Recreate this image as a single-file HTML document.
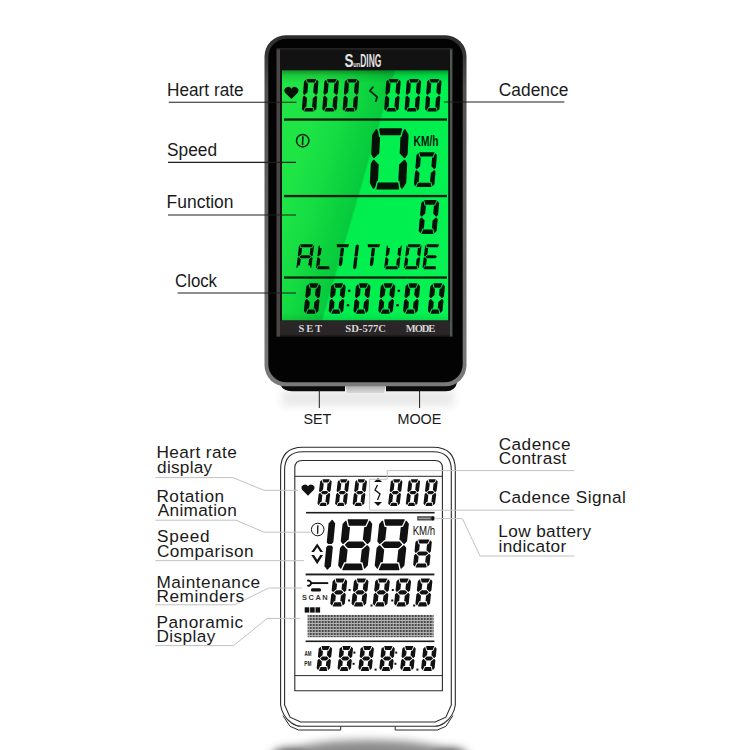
<!DOCTYPE html>
<html><head><meta charset="utf-8"><style>
html,body{margin:0;padding:0;background:#fff;width:750px;height:750px;overflow:hidden}
svg{display:block}
</style></head><body>
<svg width="750" height="750" viewBox="0 0 750 750">
<rect width="750" height="750" fill="#fff"/>
<defs>
<linearGradient id="lcd" gradientUnits="userSpaceOnUse" x1="282" y1="71" x2="501.7" y2="134.9">
  <stop offset="0" stop-color="#22e446"/>
  <stop offset="0.18" stop-color="#1ee446"/>
  <stop offset="0.30" stop-color="#14dc42"/>
  <stop offset="0.468" stop-color="#06ca3c"/>
  <stop offset="0.478" stop-color="#02ee4e"/>
  <stop offset="0.7" stop-color="#00f050"/>
  <stop offset="1" stop-color="#0af254"/>
</linearGradient>
<linearGradient id="lcdv" x1="0" y1="0" x2="0" y2="1">
  <stop offset="0" stop-color="#003300" stop-opacity="0.45"/>
  <stop offset="0.02" stop-color="#003300" stop-opacity="0.15"/>
  <stop offset="0.05" stop-color="#003300" stop-opacity="0"/>
  <stop offset="0.97" stop-color="#003300" stop-opacity="0"/>
  <stop offset="1" stop-color="#003300" stop-opacity="0.12"/>
</linearGradient>
<linearGradient id="rim" x1="0" y1="0" x2="0" y2="1">
  <stop offset="0" stop-color="#2c2c2c"/>
  <stop offset="0.15" stop-color="#505050"/>
  <stop offset="1" stop-color="#7a7a7a"/>
</linearGradient>
<radialGradient id="shad2" cx="0.5" cy="1" r="0.62">
  <stop offset="0" stop-color="#303030"/>
  <stop offset="0.55" stop-color="#8c8c8c"/>
  <stop offset="1" stop-color="#ffffff" stop-opacity="0"/>
</radialGradient>
<linearGradient id="floor" x1="0" y1="0" x2="0" y2="1">
  <stop offset="0" stop-color="#c4c4c4"/>
  <stop offset="1" stop-color="#ffffff"/>
</linearGradient>
<pattern id="grid" x="306.7" y="615" width="3" height="3" patternUnits="userSpaceOnUse"><rect width="3" height="3" fill="#b4b4b4"/><rect width="2" height="2" fill="#4a4a4a"/></pattern>
</defs>
<defs><filter id="blur4" x="-20%" y="-50%" width="140%" height="200%"><feGaussianBlur stdDeviation="4"/></filter><linearGradient id="mid" x1="0" y1="0" x2="0" y2="1"><stop offset="0" stop-color="#a8a8a8"/><stop offset="1" stop-color="#d8d8d8"/></linearGradient></defs>
<rect x="282" y="390" width="172" height="16" fill="#d6d6d6" opacity="0.55" filter="url(#blur4)"/>
<path d="M280.5,383 L345,383 L345,391.3 L292,391.3 Q283,391 280.5,385 Z" fill="#0b0b0b"/>
<path d="M386,383 L457,383 Q455,391 446,391.3 L386,391.3 Z" fill="#0b0b0b"/>
<path d="M345,385 L386,385 L384,393 L347,393 Z" fill="url(#mid)"/>
<rect x="264.5" y="35.3" width="202" height="351" rx="21" fill="url(#rim)"/>
<rect x="268.3" y="38.8" width="194.4" height="343.5" rx="18" fill="#030303"/>
<rect x="276.6" y="48.2" width="176" height="288.3" fill="#2c2a2a"/>
<rect x="276.6" y="49.5" width="3.4" height="287" fill="#4a4646"/>
<rect x="280" y="49.5" width="170" height="287" fill="#121212"/>
<rect x="450" y="49.5" width="2.2" height="287" fill="#4a5a52"/>
<rect x="282" y="70.5" width="166.2" height="250" fill="url(#lcd)"/>
<rect x="282" y="70.5" width="166.2" height="250" fill="url(#lcdv)"/>
<rect x="280" y="320.5" width="170" height="15" fill="#2a2526"/>
<g font-family="Liberation Sans" font-weight="bold" fill="#e2e2e2"><text x="344.6" y="67.4" font-size="19" textLength="9" lengthAdjust="spacingAndGlyphs">S</text><text x="353.2" y="67.2" font-size="8" textLength="7" lengthAdjust="spacingAndGlyphs">un</text><text x="360.2" y="67.3" font-size="17.5" textLength="21.2" lengthAdjust="spacingAndGlyphs">DING</text></g>
<rect x="284" y="118.4" width="163" height="2.3" fill="#0a1e0d"/>
<rect x="284" y="194.9" width="163" height="2.3" fill="#0a1e0d"/>
<rect x="284" y="276.4" width="163" height="2.3" fill="#0a1e0d"/>
<path d="M291.4,99.02000000000001 L284.99999999999994,92.628 A3.4,3.4 0 0 1 291.4,88.82000000000001 A3.4,3.4 0 0 1 297.8,92.628 Z" fill="#071207"/>
<g fill="#071107"><polygon points="307.13,79.00 306.79,79.17 306.71,79.53 307.45,82.23 307.58,82.43 307.81,82.50 314.46,82.50 314.69,82.43 314.86,82.23 316.01,79.53 315.98,79.17 315.67,79.00"/><polygon points="318.39,81.72 318.32,81.47 317.26,80.08 317.04,79.94 316.76,79.99 316.57,80.20 315.25,83.30 314.37,83.30 314.08,83.42 313.94,83.70 313.28,92.35 313.37,92.63 313.65,92.75 313.76,92.75 315.64,94.78 315.91,94.90 316.02,94.90 316.34,94.76 317.39,93.61 317.50,93.35"/><polygon points="317.20,97.25 317.13,96.99 316.26,95.84 315.96,95.70 315.85,95.70 315.56,95.82 313.37,97.85 313.25,97.85 312.96,97.97 312.82,98.25 312.16,106.90 312.26,107.18 312.53,107.30 313.41,107.30 314.25,110.40 314.41,110.61 314.68,110.66 314.93,110.52 316.20,109.13 316.31,108.88"/><polygon points="304.29,111.07 304.32,111.43 304.63,111.60 313.17,111.60 313.51,111.43 313.59,111.07 312.85,108.37 312.72,108.17 312.49,108.10 305.84,108.10 305.61,108.17 305.44,108.37"/><polygon points="306.54,97.85 304.66,95.82 304.39,95.70 304.28,95.70 303.96,95.84 302.91,96.99 302.80,97.25 301.91,108.88 301.98,109.13 303.04,110.52 303.26,110.66 303.54,110.61 303.73,110.40 305.05,107.30 305.93,107.30 306.22,107.18 306.36,106.90 307.02,98.25 306.93,97.97 306.65,97.85"/><polygon points="306.89,83.30 306.05,80.20 305.89,79.99 305.62,79.94 305.37,80.08 304.10,81.47 303.99,81.72 303.10,93.35 303.17,93.61 304.04,94.76 304.34,94.90 304.45,94.90 304.74,94.78 306.93,92.75 307.05,92.75 307.34,92.63 307.48,92.35 308.14,83.70 308.04,83.42 307.77,83.30"/></g>
<g fill="#071107"><polygon points="327.53,79.00 327.19,79.17 327.11,79.53 327.85,82.23 327.98,82.43 328.21,82.50 334.86,82.50 335.09,82.43 335.26,82.23 336.41,79.53 336.38,79.17 336.07,79.00"/><polygon points="338.79,81.72 338.72,81.47 337.66,80.08 337.44,79.94 337.16,79.99 336.97,80.20 335.65,83.30 334.77,83.30 334.48,83.42 334.34,83.70 333.68,92.35 333.77,92.63 334.05,92.75 334.16,92.75 336.04,94.78 336.31,94.90 336.42,94.90 336.74,94.76 337.79,93.61 337.90,93.35"/><polygon points="337.60,97.25 337.53,96.99 336.66,95.84 336.36,95.70 336.25,95.70 335.96,95.82 333.77,97.85 333.65,97.85 333.36,97.97 333.22,98.25 332.56,106.90 332.66,107.18 332.93,107.30 333.81,107.30 334.65,110.40 334.81,110.61 335.08,110.66 335.33,110.52 336.60,109.13 336.71,108.88"/><polygon points="324.69,111.07 324.72,111.43 325.03,111.60 333.57,111.60 333.91,111.43 333.99,111.07 333.25,108.37 333.12,108.17 332.89,108.10 326.24,108.10 326.01,108.17 325.84,108.37"/><polygon points="326.94,97.85 325.06,95.82 324.79,95.70 324.68,95.70 324.36,95.84 323.31,96.99 323.20,97.25 322.31,108.88 322.38,109.13 323.44,110.52 323.66,110.66 323.94,110.61 324.13,110.40 325.45,107.30 326.33,107.30 326.62,107.18 326.76,106.90 327.42,98.25 327.33,97.97 327.05,97.85"/><polygon points="327.29,83.30 326.45,80.20 326.29,79.99 326.02,79.94 325.77,80.08 324.50,81.47 324.39,81.72 323.50,93.35 323.57,93.61 324.44,94.76 324.74,94.90 324.85,94.90 325.14,94.78 327.33,92.75 327.45,92.75 327.74,92.63 327.88,92.35 328.54,83.70 328.44,83.42 328.17,83.30"/></g>
<g fill="#071107"><polygon points="347.93,79.00 347.59,79.17 347.51,79.53 348.25,82.23 348.38,82.43 348.61,82.50 355.26,82.50 355.49,82.43 355.66,82.23 356.81,79.53 356.78,79.17 356.47,79.00"/><polygon points="359.19,81.72 359.12,81.47 358.06,80.08 357.84,79.94 357.56,79.99 357.37,80.20 356.05,83.30 355.17,83.30 354.88,83.42 354.74,83.70 354.08,92.35 354.17,92.63 354.45,92.75 354.56,92.75 356.44,94.78 356.71,94.90 356.82,94.90 357.14,94.76 358.19,93.61 358.30,93.35"/><polygon points="358.00,97.25 357.93,96.99 357.06,95.84 356.76,95.70 356.65,95.70 356.36,95.82 354.17,97.85 354.05,97.85 353.76,97.97 353.62,98.25 352.96,106.90 353.06,107.18 353.33,107.30 354.21,107.30 355.05,110.40 355.21,110.61 355.48,110.66 355.73,110.52 357.00,109.13 357.11,108.88"/><polygon points="345.09,111.07 345.12,111.43 345.43,111.60 353.97,111.60 354.31,111.43 354.39,111.07 353.65,108.37 353.52,108.17 353.29,108.10 346.64,108.10 346.41,108.17 346.24,108.37"/><polygon points="347.34,97.85 345.46,95.82 345.19,95.70 345.08,95.70 344.76,95.84 343.71,96.99 343.60,97.25 342.71,108.88 342.78,109.13 343.84,110.52 344.06,110.66 344.34,110.61 344.53,110.40 345.85,107.30 346.73,107.30 347.02,107.18 347.16,106.90 347.82,98.25 347.73,97.97 347.45,97.85"/><polygon points="347.69,83.30 346.85,80.20 346.69,79.99 346.42,79.94 346.17,80.08 344.90,81.47 344.79,81.72 343.90,93.35 343.97,93.61 344.84,94.76 345.14,94.90 345.25,94.90 345.54,94.78 347.73,92.75 347.85,92.75 348.14,92.63 348.28,92.35 348.94,83.70 348.84,83.42 348.57,83.30"/></g>
<polyline points="372.8,87.2 369.9,90.8 377.2,97.0 375.8,101.2" fill="none" stroke="#0a2a0e" stroke-width="1.8" stroke-linejoin="round" stroke-linecap="round"/>
<g fill="#071107"><polygon points="389.43,79.00 389.09,79.17 389.01,79.53 389.75,82.23 389.88,82.43 390.11,82.50 396.76,82.50 396.99,82.43 397.16,82.23 398.31,79.53 398.28,79.17 397.97,79.00"/><polygon points="400.69,81.72 400.62,81.47 399.56,80.08 399.34,79.94 399.06,79.99 398.87,80.20 397.55,83.30 396.67,83.30 396.38,83.42 396.24,83.70 395.58,92.35 395.67,92.63 395.95,92.75 396.06,92.75 397.94,94.78 398.21,94.90 398.32,94.90 398.64,94.76 399.69,93.61 399.80,93.35"/><polygon points="399.50,97.25 399.43,96.99 398.56,95.84 398.26,95.70 398.15,95.70 397.86,95.82 395.67,97.85 395.55,97.85 395.26,97.97 395.12,98.25 394.46,106.90 394.56,107.18 394.83,107.30 395.71,107.30 396.55,110.40 396.71,110.61 396.98,110.66 397.23,110.52 398.50,109.13 398.61,108.88"/><polygon points="386.59,111.07 386.62,111.43 386.93,111.60 395.47,111.60 395.81,111.43 395.89,111.07 395.15,108.37 395.02,108.17 394.79,108.10 388.14,108.10 387.91,108.17 387.74,108.37"/><polygon points="388.84,97.85 386.96,95.82 386.69,95.70 386.58,95.70 386.26,95.84 385.21,96.99 385.10,97.25 384.21,108.88 384.28,109.13 385.34,110.52 385.56,110.66 385.84,110.61 386.03,110.40 387.35,107.30 388.23,107.30 388.52,107.18 388.66,106.90 389.32,98.25 389.23,97.97 388.95,97.85"/><polygon points="389.19,83.30 388.35,80.20 388.19,79.99 387.92,79.94 387.67,80.08 386.40,81.47 386.29,81.72 385.40,93.35 385.47,93.61 386.34,94.76 386.64,94.90 386.75,94.90 387.04,94.78 389.23,92.75 389.35,92.75 389.64,92.63 389.78,92.35 390.44,83.70 390.34,83.42 390.07,83.30"/></g>
<g fill="#071107"><polygon points="409.83,79.00 409.49,79.17 409.41,79.53 410.15,82.23 410.28,82.43 410.51,82.50 417.16,82.50 417.39,82.43 417.56,82.23 418.71,79.53 418.68,79.17 418.37,79.00"/><polygon points="421.09,81.72 421.02,81.47 419.96,80.08 419.74,79.94 419.46,79.99 419.27,80.20 417.95,83.30 417.07,83.30 416.78,83.42 416.64,83.70 415.98,92.35 416.07,92.63 416.35,92.75 416.46,92.75 418.34,94.78 418.61,94.90 418.72,94.90 419.04,94.76 420.09,93.61 420.20,93.35"/><polygon points="419.90,97.25 419.83,96.99 418.96,95.84 418.66,95.70 418.55,95.70 418.26,95.82 416.07,97.85 415.95,97.85 415.66,97.97 415.52,98.25 414.86,106.90 414.96,107.18 415.23,107.30 416.11,107.30 416.95,110.40 417.11,110.61 417.38,110.66 417.63,110.52 418.90,109.13 419.01,108.88"/><polygon points="406.99,111.07 407.02,111.43 407.33,111.60 415.87,111.60 416.21,111.43 416.29,111.07 415.55,108.37 415.42,108.17 415.19,108.10 408.54,108.10 408.31,108.17 408.14,108.37"/><polygon points="409.24,97.85 407.36,95.82 407.09,95.70 406.98,95.70 406.66,95.84 405.61,96.99 405.50,97.25 404.61,108.88 404.68,109.13 405.74,110.52 405.96,110.66 406.24,110.61 406.43,110.40 407.75,107.30 408.63,107.30 408.92,107.18 409.06,106.90 409.72,98.25 409.63,97.97 409.35,97.85"/><polygon points="409.59,83.30 408.75,80.20 408.59,79.99 408.32,79.94 408.07,80.08 406.80,81.47 406.69,81.72 405.80,93.35 405.87,93.61 406.74,94.76 407.04,94.90 407.15,94.90 407.44,94.78 409.63,92.75 409.75,92.75 410.04,92.63 410.18,92.35 410.84,83.70 410.74,83.42 410.47,83.30"/></g>
<g fill="#071107"><polygon points="430.23,79.00 429.89,79.17 429.81,79.53 430.55,82.23 430.68,82.43 430.91,82.50 437.56,82.50 437.79,82.43 437.96,82.23 439.11,79.53 439.08,79.17 438.77,79.00"/><polygon points="441.49,81.72 441.42,81.47 440.36,80.08 440.14,79.94 439.86,79.99 439.67,80.20 438.35,83.30 437.47,83.30 437.18,83.42 437.04,83.70 436.38,92.35 436.47,92.63 436.75,92.75 436.86,92.75 438.74,94.78 439.01,94.90 439.12,94.90 439.44,94.76 440.49,93.61 440.60,93.35"/><polygon points="440.30,97.25 440.23,96.99 439.36,95.84 439.06,95.70 438.95,95.70 438.66,95.82 436.47,97.85 436.35,97.85 436.06,97.97 435.92,98.25 435.26,106.90 435.36,107.18 435.63,107.30 436.51,107.30 437.35,110.40 437.51,110.61 437.78,110.66 438.03,110.52 439.30,109.13 439.41,108.88"/><polygon points="427.39,111.07 427.42,111.43 427.73,111.60 436.27,111.60 436.61,111.43 436.69,111.07 435.95,108.37 435.82,108.17 435.59,108.10 428.94,108.10 428.71,108.17 428.54,108.37"/><polygon points="429.64,97.85 427.76,95.82 427.49,95.70 427.38,95.70 427.06,95.84 426.01,96.99 425.90,97.25 425.01,108.88 425.08,109.13 426.14,110.52 426.36,110.66 426.64,110.61 426.83,110.40 428.15,107.30 429.03,107.30 429.32,107.18 429.46,106.90 430.12,98.25 430.03,97.97 429.75,97.85"/><polygon points="429.99,83.30 429.15,80.20 428.99,79.99 428.72,79.94 428.47,80.08 427.20,81.47 427.09,81.72 426.20,93.35 426.27,93.61 427.14,94.76 427.44,94.90 427.55,94.90 427.84,94.78 430.03,92.75 430.15,92.75 430.44,92.63 430.58,92.35 431.24,83.70 431.14,83.42 430.87,83.30"/></g>
<circle cx="302.7" cy="140.7" r="6.2" fill="none" stroke="#0b2410" stroke-width="1.5"/>
<line x1="302.9" y1="136.2" x2="302.5" y2="145.2" stroke="#0b2410" stroke-width="1.6"/>
<g fill="#071107"><polygon points="380.08,128.30 379.44,128.59 379.24,129.26 380.06,134.66 380.31,135.12 380.81,135.30 399.90,135.30 400.42,135.12 400.72,134.66 402.06,129.26 401.93,128.59 401.32,128.30"/><polygon points="399.68,153.25 399.89,153.82 400.24,153.97 404.08,158.00 404.72,158.23 405.33,157.85 407.49,154.59 407.63,154.17 408.57,135.03 408.47,134.61 405.53,129.41 405.13,129.07 404.60,129.07 404.16,129.41 403.11,131.00 402.99,131.26 401.64,136.70 401.29,136.70 400.71,136.93 400.45,137.50"/><polygon points="399.75,163.93 399.38,164.08 399.12,164.65 398.35,180.40 398.56,180.97 399.11,181.20 399.46,181.20 400.28,186.64 400.37,186.90 401.27,188.49 401.67,188.83 402.20,188.83 402.64,188.49 406.09,183.29 406.23,182.87 407.17,163.73 407.07,163.31 405.22,160.05 404.65,159.67 403.98,159.90"/><polygon points="376.34,188.64 376.47,189.31 377.08,189.60 398.32,189.60 398.96,189.31 399.16,188.64 398.34,183.24 398.09,182.78 397.59,182.60 378.50,182.60 377.98,182.78 377.68,183.24"/><polygon points="374.32,159.90 373.68,159.67 373.07,160.05 370.91,163.31 370.77,163.73 369.83,182.87 369.93,183.29 372.87,188.49 373.27,188.83 373.80,188.83 374.24,188.49 375.29,186.90 375.41,186.64 376.76,181.20 377.11,181.20 377.69,180.97 377.95,180.40 378.72,164.65 378.51,164.08 378.16,163.93"/><polygon points="372.31,134.61 372.17,135.03 371.23,154.17 371.33,154.59 373.18,157.85 373.75,158.23 374.42,158.00 378.65,153.97 379.02,153.82 379.28,153.25 380.05,137.50 379.84,136.93 379.29,136.70 378.94,136.70 378.12,131.26 378.03,131.00 377.13,129.41 376.73,129.07 376.20,129.07 375.76,129.41"/></g>
<text x="413.58" y="145.9" font-family="Liberation Sans" font-weight="bold" fill="#0a1a0c" font-size="14.0" textLength="24.97" lengthAdjust="spacingAndGlyphs">KM/h</text>
<g fill="#071107"><polygon points="419.79,152.30 419.45,152.47 419.37,152.83 420.27,156.23 420.40,156.43 420.62,156.50 432.55,156.50 432.79,156.43 432.95,156.23 434.44,152.83 434.42,152.47 434.11,152.30"/><polygon points="431.39,166.25 431.49,166.53 431.67,166.61 433.92,169.08 434.20,169.20 434.32,169.20 434.64,169.06 435.76,167.83 435.88,167.57 436.95,155.20 436.88,154.95 435.76,153.45 435.53,153.32 435.26,153.36 435.07,153.58 433.40,157.40 432.56,157.40 432.27,157.52 432.12,157.80"/><polygon points="431.14,172.69 430.95,172.77 430.81,173.05 430.08,181.50 430.17,181.78 430.44,181.90 431.28,181.90 432.29,185.72 432.44,185.94 432.71,185.98 432.96,185.85 434.34,184.35 434.45,184.10 435.52,171.73 435.45,171.47 434.53,170.24 434.24,170.10 434.12,170.10 433.83,170.22"/><polygon points="416.46,186.47 416.48,186.83 416.79,187.00 431.11,187.00 431.45,186.83 431.53,186.47 430.63,183.07 430.50,182.87 430.28,182.80 418.35,182.80 418.11,182.87 417.95,183.07"/><polygon points="419.23,172.69 416.98,170.22 416.70,170.10 416.58,170.10 416.26,170.24 415.14,171.47 415.02,171.73 413.95,184.10 414.02,184.35 415.14,185.85 415.37,185.98 415.64,185.94 415.83,185.72 417.50,181.90 418.34,181.90 418.63,181.78 418.78,181.50 419.51,173.05 419.41,172.77"/><polygon points="419.62,157.40 418.61,153.58 418.46,153.36 418.19,153.32 417.94,153.45 416.56,154.95 416.45,155.20 415.38,167.57 415.45,167.83 416.37,169.06 416.66,169.20 416.78,169.20 417.07,169.08 419.76,166.61 419.95,166.53 420.09,166.25 420.82,157.80 420.73,157.52 420.46,157.40"/></g>
<g fill="#071107"><polygon points="424.71,200.10 424.37,200.27 424.29,200.63 425.28,204.43 425.41,204.63 425.64,204.70 434.35,204.70 434.59,204.63 434.75,204.43 436.42,200.63 436.40,200.27 436.09,200.10"/><polygon points="433.22,213.45 433.31,213.73 433.46,213.80 435.91,216.48 436.18,216.60 436.38,216.60 436.70,216.46 437.98,215.06 438.10,214.81 439.12,203.24 439.05,202.99 437.75,201.24 437.52,201.10 437.24,201.15 437.05,201.36 435.19,205.60 434.31,205.60 434.02,205.72 433.88,206.00"/><polygon points="432.88,220.30 432.72,220.37 432.58,220.65 431.92,228.10 432.01,228.38 432.29,228.50 433.17,228.50 434.27,232.74 434.43,232.95 434.70,233.00 434.95,232.86 436.56,231.11 436.68,230.86 437.70,219.29 437.63,219.04 436.59,217.64 436.30,217.50 436.10,217.50 435.81,217.62"/><polygon points="421.38,233.47 421.40,233.83 421.71,234.00 433.09,234.00 433.43,233.83 433.51,233.47 432.52,229.67 432.39,229.47 432.16,229.40 423.45,229.40 423.21,229.47 423.05,229.67"/><polygon points="424.34,220.30 421.89,217.62 421.62,217.50 421.42,217.50 421.10,217.64 419.82,219.04 419.70,219.29 418.68,230.86 418.75,231.11 420.05,232.86 420.28,233.00 420.56,232.95 420.75,232.74 422.61,228.50 423.49,228.50 423.78,228.38 423.92,228.10 424.58,220.65 424.49,220.37"/><polygon points="424.63,205.60 423.53,201.36 423.37,201.15 423.10,201.10 422.85,201.24 421.24,202.99 421.12,203.24 420.10,214.81 420.17,215.06 421.21,216.46 421.50,216.60 421.70,216.60 421.99,216.48 424.92,213.80 425.08,213.73 425.22,213.45 425.88,206.00 425.79,205.72 425.51,205.60"/></g>
<g fill="#071107"><polygon points="300.79,244.30 300.54,244.42 300.46,244.68 300.81,247.08 300.90,247.24 301.07,247.30 311.61,247.30 311.80,247.24 311.93,247.08 312.85,244.68 312.83,244.42 312.61,244.30"/><polygon points="309.70,254.30 309.76,254.51 309.92,254.58 311.49,256.36 311.69,256.45 311.83,256.45 312.05,256.37 312.73,255.77 312.85,255.55 313.99,246.03 313.93,245.81 313.70,245.56 313.52,245.48 313.32,245.53 313.18,245.70 312.29,248.00 310.76,248.00 310.53,248.09 310.42,248.30"/><polygon points="309.39,259.02 309.21,259.09 309.10,259.30 308.38,265.30 308.44,265.51 308.64,265.60 310.18,265.60 310.52,267.90 310.62,268.07 310.81,268.12 311.00,268.04 311.29,267.79 311.41,267.57 312.55,258.05 312.49,257.83 311.94,257.23 311.74,257.15 311.61,257.15 311.38,257.24"/><polygon points="300.48,259.02 298.91,257.24 298.71,257.15 298.57,257.15 298.35,257.23 297.67,257.83 297.55,258.05 296.41,267.57 296.47,267.79 296.70,268.04 296.88,268.12 297.08,268.07 297.22,267.90 298.11,265.60 299.64,265.60 299.87,265.51 299.98,265.30 300.70,259.30 300.64,259.09"/><polygon points="300.22,248.00 299.88,245.70 299.78,245.53 299.59,245.48 299.40,245.56 299.11,245.81 298.99,246.03 297.85,255.55 297.91,255.77 298.46,256.37 298.66,256.45 298.79,256.45 299.02,256.36 301.01,254.58 301.19,254.51 301.30,254.30 302.02,248.30 301.96,248.09 301.76,248.00"/><polygon points="299.75,256.59 299.64,256.80 299.70,257.01 300.76,258.21 300.96,258.30 309.08,258.30 309.30,258.21 310.65,257.01 310.76,256.80 310.70,256.59 309.64,255.39 309.44,255.30 301.32,255.30 301.10,255.39"/></g>
<g fill="#071107"><polygon points="319.82,248.00 319.48,245.70 319.38,245.53 319.19,245.48 319.00,245.56 318.71,245.81 318.59,246.03 317.45,255.55 317.51,255.77 318.06,256.37 318.26,256.45 318.39,256.45 318.62,256.36 320.61,254.58 320.79,254.51 320.90,254.30 321.62,248.30 321.56,248.09 321.36,248.00"/><polygon points="320.08,259.02 318.51,257.24 318.31,257.15 318.17,257.15 317.95,257.23 317.27,257.83 317.15,258.05 316.01,267.57 316.07,267.79 316.30,268.04 316.48,268.12 316.68,268.07 316.82,267.90 317.71,265.60 319.24,265.60 319.47,265.51 319.58,265.30 320.30,259.30 320.24,259.09"/><polygon points="317.15,268.92 317.17,269.18 317.39,269.30 329.21,269.30 329.46,269.18 329.54,268.92 329.19,266.52 329.10,266.36 328.93,266.30 318.39,266.30 318.20,266.36 318.07,266.52"/></g>
<g fill="#071107"><polygon points="336.99,244.30 336.74,244.42 336.66,244.68 337.01,247.08 337.10,247.24 337.27,247.30 347.81,247.30 348.00,247.24 348.13,247.08 349.05,244.68 349.03,244.42 348.81,244.30"/><polygon points="339.86,255.85 339.95,256.09 340.30,256.39 340.47,256.45 342.41,256.45 342.60,256.39 343.02,256.09 343.16,255.85 344.02,248.73 343.93,248.49 343.43,248.06 343.26,248.00 341.66,248.00 341.46,248.06 340.86,248.49 340.72,248.73"/><polygon points="338.78,264.87 338.87,265.11 340.09,266.16 340.27,266.22 340.46,266.16 341.94,265.11 342.08,264.87 342.94,257.75 342.85,257.51 342.50,257.21 342.33,257.15 340.39,257.15 340.20,257.21 339.78,257.51 339.64,257.75"/></g>
<g fill="#071107"><polygon points="357.62,256.09 357.76,255.85 358.98,245.73 358.89,245.49 357.67,244.44 357.49,244.38 357.30,244.44 355.82,245.49 355.68,245.73 354.46,255.85 354.55,256.09 354.90,256.39 355.07,256.45 357.01,256.45 357.20,256.39"/><polygon points="354.38,257.51 354.24,257.75 353.02,267.87 353.11,268.11 354.33,269.16 354.51,269.22 354.70,269.16 356.18,268.11 356.32,267.87 357.54,257.75 357.45,257.51 357.10,257.21 356.93,257.15 354.99,257.15 354.80,257.21"/></g>
<g fill="#071107"><polygon points="367.99,244.30 367.74,244.42 367.66,244.68 368.01,247.08 368.10,247.24 368.27,247.30 378.81,247.30 379.00,247.24 379.13,247.08 380.05,244.68 380.03,244.42 379.81,244.30"/><polygon points="370.86,255.85 370.95,256.09 371.30,256.39 371.47,256.45 373.41,256.45 373.60,256.39 374.02,256.09 374.16,255.85 375.02,248.73 374.93,248.49 374.43,248.06 374.26,248.00 372.66,248.00 372.46,248.06 371.86,248.49 371.72,248.73"/><polygon points="369.78,264.87 369.87,265.11 371.09,266.16 371.27,266.22 371.46,266.16 372.94,265.11 373.08,264.87 373.94,257.75 373.85,257.51 373.50,257.21 373.33,257.15 371.39,257.15 371.20,257.21 370.78,257.51 370.64,257.75"/></g>
<g fill="#071107"><polygon points="388.02,248.00 387.68,245.70 387.58,245.53 387.39,245.48 387.20,245.56 386.91,245.81 386.79,246.03 385.65,255.55 385.71,255.77 386.26,256.37 386.46,256.45 386.59,256.45 386.82,256.36 388.81,254.58 388.99,254.51 389.10,254.30 389.82,248.30 389.76,248.09 389.56,248.00"/><polygon points="388.28,259.02 386.71,257.24 386.51,257.15 386.37,257.15 386.15,257.23 385.47,257.83 385.35,258.05 384.21,267.57 384.27,267.79 384.50,268.04 384.68,268.12 384.88,268.07 385.02,267.90 385.91,265.60 387.44,265.60 387.67,265.51 387.78,265.30 388.50,259.30 388.44,259.09"/><polygon points="385.35,268.92 385.37,269.18 385.59,269.30 397.41,269.30 397.66,269.18 397.74,268.92 397.39,266.52 397.30,266.36 397.13,266.30 386.59,266.30 386.40,266.36 386.27,266.52"/><polygon points="397.19,259.02 397.01,259.09 396.90,259.30 396.18,265.30 396.24,265.51 396.44,265.60 397.98,265.60 398.32,267.90 398.42,268.07 398.61,268.12 398.80,268.04 399.09,267.79 399.21,267.57 400.35,258.05 400.29,257.83 399.74,257.23 399.54,257.15 399.41,257.15 399.18,257.24"/><polygon points="397.50,254.30 397.56,254.51 397.72,254.58 399.29,256.36 399.49,256.45 399.63,256.45 399.85,256.37 400.53,255.77 400.65,255.55 401.79,246.03 401.73,245.81 401.50,245.56 401.32,245.48 401.12,245.53 400.98,245.70 400.09,248.00 398.56,248.00 398.33,248.09 398.22,248.30"/></g>
<g fill="#071107"><polygon points="408.29,244.30 408.04,244.42 407.96,244.68 408.31,247.08 408.40,247.24 408.57,247.30 419.11,247.30 419.30,247.24 419.43,247.08 420.35,244.68 420.33,244.42 420.11,244.30"/><polygon points="417.20,254.30 417.26,254.51 417.42,254.58 418.99,256.36 419.19,256.45 419.33,256.45 419.55,256.37 420.23,255.77 420.35,255.55 421.49,246.03 421.43,245.81 421.20,245.56 421.02,245.48 420.82,245.53 420.68,245.70 419.79,248.00 418.26,248.00 418.03,248.09 417.92,248.30"/><polygon points="416.89,259.02 416.71,259.09 416.60,259.30 415.88,265.30 415.94,265.51 416.14,265.60 417.68,265.60 418.02,267.90 418.12,268.07 418.31,268.12 418.50,268.04 418.79,267.79 418.91,267.57 420.05,258.05 419.99,257.83 419.44,257.23 419.24,257.15 419.11,257.15 418.88,257.24"/><polygon points="405.05,268.92 405.07,269.18 405.29,269.30 417.11,269.30 417.36,269.18 417.44,268.92 417.09,266.52 417.00,266.36 416.83,266.30 406.29,266.30 406.10,266.36 405.97,266.52"/><polygon points="407.98,259.02 406.41,257.24 406.21,257.15 406.07,257.15 405.85,257.23 405.17,257.83 405.05,258.05 403.91,267.57 403.97,267.79 404.20,268.04 404.38,268.12 404.58,268.07 404.72,267.90 405.61,265.60 407.14,265.60 407.37,265.51 407.48,265.30 408.20,259.30 408.14,259.09"/><polygon points="407.72,248.00 407.38,245.70 407.28,245.53 407.09,245.48 406.90,245.56 406.61,245.81 406.49,246.03 405.35,255.55 405.41,255.77 405.96,256.37 406.16,256.45 406.29,256.45 406.52,256.36 408.51,254.58 408.69,254.51 408.80,254.30 409.52,248.30 409.46,248.09 409.26,248.00"/></g>
<g fill="#071107"><polygon points="426.89,244.30 426.64,244.42 426.56,244.68 426.91,247.08 427.00,247.24 427.17,247.30 437.71,247.30 437.90,247.24 438.03,247.08 438.95,244.68 438.93,244.42 438.71,244.30"/><polygon points="426.32,248.00 425.98,245.70 425.88,245.53 425.69,245.48 425.50,245.56 425.21,245.81 425.09,246.03 423.95,255.55 424.01,255.77 424.56,256.37 424.76,256.45 424.89,256.45 425.12,256.36 427.11,254.58 427.29,254.51 427.40,254.30 428.12,248.30 428.06,248.09 427.86,248.00"/><polygon points="425.85,256.59 425.74,256.80 425.80,257.01 426.86,258.21 427.06,258.30 435.18,258.30 435.40,258.21 436.75,257.01 436.86,256.80 436.80,256.59 435.74,255.39 435.54,255.30 427.42,255.30 427.20,255.39"/><polygon points="426.58,259.02 425.01,257.24 424.81,257.15 424.67,257.15 424.45,257.23 423.77,257.83 423.65,258.05 422.51,267.57 422.57,267.79 422.80,268.04 422.98,268.12 423.18,268.07 423.32,267.90 424.21,265.60 425.74,265.60 425.97,265.51 426.08,265.30 426.80,259.30 426.74,259.09"/><polygon points="423.65,268.92 423.67,269.18 423.89,269.30 435.71,269.30 435.96,269.18 436.04,268.92 435.69,266.52 435.60,266.36 435.43,266.30 424.89,266.30 424.70,266.36 424.57,266.52"/></g>
<g fill="#071107"><polygon points="309.91,283.30 309.57,283.47 309.48,283.83 310.39,287.43 310.52,287.63 310.74,287.70 316.19,287.70 316.43,287.63 316.60,287.43 318.21,283.83 318.20,283.47 317.89,283.30"/><polygon points="320.89,286.44 320.82,286.19 319.54,284.44 319.31,284.30 319.03,284.35 318.84,284.56 317.03,288.60 316.08,288.60 315.78,288.72 315.64,289.00 315.04,295.05 315.13,295.33 315.40,295.45 315.43,295.45 317.71,297.98 317.98,298.10 318.18,298.10 318.50,297.96 319.80,296.56 319.92,296.31"/><polygon points="319.48,300.79 319.41,300.54 318.39,299.14 318.09,299.00 317.89,299.00 317.60,299.12 314.82,301.65 314.80,301.65 314.50,301.77 314.36,302.05 313.76,308.10 313.85,308.38 314.12,308.50 315.07,308.50 316.09,312.54 316.24,312.75 316.51,312.80 316.76,312.66 318.39,310.91 318.51,310.66"/><polygon points="306.59,313.27 306.60,313.63 306.91,313.80 314.89,313.80 315.23,313.63 315.32,313.27 314.41,309.67 314.28,309.47 314.06,309.40 308.61,309.40 308.37,309.47 308.20,309.67"/><polygon points="309.37,301.65 307.09,299.12 306.82,299.00 306.62,299.00 306.30,299.14 305.00,300.54 304.88,300.79 303.91,310.66 303.98,310.91 305.26,312.66 305.49,312.80 305.77,312.75 305.96,312.54 307.77,308.50 308.72,308.50 309.02,308.38 309.16,308.10 309.76,302.05 309.67,301.77 309.40,301.65"/><polygon points="309.73,288.60 308.71,284.56 308.56,284.35 308.29,284.30 308.04,284.44 306.41,286.19 306.29,286.44 305.32,296.31 305.39,296.56 306.41,297.96 306.71,298.10 306.91,298.10 307.20,297.98 309.98,295.45 310.00,295.45 310.30,295.33 310.44,295.05 311.04,289.00 310.95,288.72 310.68,288.60"/></g>
<g fill="#071107"><polygon points="334.71,283.30 334.37,283.47 334.28,283.83 335.19,287.43 335.32,287.63 335.54,287.70 340.99,287.70 341.23,287.63 341.40,287.43 343.01,283.83 343.00,283.47 342.69,283.30"/><polygon points="345.69,286.44 345.62,286.19 344.34,284.44 344.11,284.30 343.83,284.35 343.64,284.56 341.83,288.60 340.88,288.60 340.58,288.72 340.44,289.00 339.84,295.05 339.93,295.33 340.20,295.45 340.23,295.45 342.51,297.98 342.78,298.10 342.98,298.10 343.30,297.96 344.60,296.56 344.72,296.31"/><polygon points="344.28,300.79 344.21,300.54 343.19,299.14 342.89,299.00 342.69,299.00 342.40,299.12 339.62,301.65 339.60,301.65 339.30,301.77 339.16,302.05 338.56,308.10 338.65,308.38 338.92,308.50 339.87,308.50 340.89,312.54 341.04,312.75 341.31,312.80 341.56,312.66 343.19,310.91 343.31,310.66"/><polygon points="331.39,313.27 331.40,313.63 331.71,313.80 339.69,313.80 340.03,313.63 340.12,313.27 339.21,309.67 339.08,309.47 338.86,309.40 333.41,309.40 333.17,309.47 333.00,309.67"/><polygon points="334.17,301.65 331.89,299.12 331.62,299.00 331.42,299.00 331.10,299.14 329.80,300.54 329.68,300.79 328.71,310.66 328.78,310.91 330.06,312.66 330.29,312.80 330.57,312.75 330.76,312.54 332.57,308.50 333.52,308.50 333.82,308.38 333.96,308.10 334.56,302.05 334.47,301.77 334.20,301.65"/><polygon points="334.53,288.60 333.51,284.56 333.36,284.35 333.09,284.30 332.84,284.44 331.21,286.19 331.09,286.44 330.12,296.31 330.19,296.56 331.21,297.96 331.51,298.10 331.71,298.10 332.00,297.98 334.78,295.45 334.80,295.45 335.10,295.33 335.24,295.05 335.84,289.00 335.75,288.72 335.48,288.60"/></g>
<g fill="#071107"><polygon points="359.51,283.30 359.17,283.47 359.08,283.83 359.99,287.43 360.12,287.63 360.34,287.70 365.79,287.70 366.03,287.63 366.20,287.43 367.81,283.83 367.80,283.47 367.49,283.30"/><polygon points="370.49,286.44 370.42,286.19 369.14,284.44 368.91,284.30 368.63,284.35 368.44,284.56 366.63,288.60 365.68,288.60 365.38,288.72 365.24,289.00 364.64,295.05 364.73,295.33 365.00,295.45 365.03,295.45 367.31,297.98 367.58,298.10 367.78,298.10 368.10,297.96 369.40,296.56 369.52,296.31"/><polygon points="369.08,300.79 369.01,300.54 367.99,299.14 367.69,299.00 367.49,299.00 367.20,299.12 364.42,301.65 364.40,301.65 364.10,301.77 363.96,302.05 363.36,308.10 363.45,308.38 363.72,308.50 364.67,308.50 365.69,312.54 365.84,312.75 366.11,312.80 366.36,312.66 367.99,310.91 368.11,310.66"/><polygon points="356.19,313.27 356.20,313.63 356.51,313.80 364.49,313.80 364.83,313.63 364.92,313.27 364.01,309.67 363.88,309.47 363.66,309.40 358.21,309.40 357.97,309.47 357.80,309.67"/><polygon points="358.97,301.65 356.69,299.12 356.42,299.00 356.22,299.00 355.90,299.14 354.60,300.54 354.48,300.79 353.51,310.66 353.58,310.91 354.86,312.66 355.09,312.80 355.37,312.75 355.56,312.54 357.37,308.50 358.32,308.50 358.62,308.38 358.76,308.10 359.36,302.05 359.27,301.77 359.00,301.65"/><polygon points="359.33,288.60 358.31,284.56 358.16,284.35 357.89,284.30 357.64,284.44 356.01,286.19 355.89,286.44 354.92,296.31 354.99,296.56 356.01,297.96 356.31,298.10 356.51,298.10 356.80,297.98 359.58,295.45 359.60,295.45 359.90,295.33 360.04,295.05 360.64,289.00 360.55,288.72 360.28,288.60"/></g>
<g fill="#071107"><polygon points="384.31,283.30 383.97,283.47 383.88,283.83 384.79,287.43 384.92,287.63 385.14,287.70 390.59,287.70 390.83,287.63 391.00,287.43 392.61,283.83 392.60,283.47 392.29,283.30"/><polygon points="395.29,286.44 395.22,286.19 393.94,284.44 393.71,284.30 393.43,284.35 393.24,284.56 391.43,288.60 390.48,288.60 390.18,288.72 390.04,289.00 389.44,295.05 389.53,295.33 389.80,295.45 389.83,295.45 392.11,297.98 392.38,298.10 392.58,298.10 392.90,297.96 394.20,296.56 394.32,296.31"/><polygon points="393.88,300.79 393.81,300.54 392.79,299.14 392.49,299.00 392.29,299.00 392.00,299.12 389.22,301.65 389.20,301.65 388.90,301.77 388.76,302.05 388.16,308.10 388.25,308.38 388.52,308.50 389.47,308.50 390.49,312.54 390.64,312.75 390.91,312.80 391.16,312.66 392.79,310.91 392.91,310.66"/><polygon points="380.99,313.27 381.00,313.63 381.31,313.80 389.29,313.80 389.63,313.63 389.72,313.27 388.81,309.67 388.68,309.47 388.46,309.40 383.01,309.40 382.77,309.47 382.60,309.67"/><polygon points="383.77,301.65 381.49,299.12 381.22,299.00 381.02,299.00 380.70,299.14 379.40,300.54 379.28,300.79 378.31,310.66 378.38,310.91 379.66,312.66 379.89,312.80 380.17,312.75 380.36,312.54 382.17,308.50 383.12,308.50 383.42,308.38 383.56,308.10 384.16,302.05 384.07,301.77 383.80,301.65"/><polygon points="384.13,288.60 383.11,284.56 382.96,284.35 382.69,284.30 382.44,284.44 380.81,286.19 380.69,286.44 379.72,296.31 379.79,296.56 380.81,297.96 381.11,298.10 381.31,298.10 381.60,297.98 384.38,295.45 384.40,295.45 384.70,295.33 384.84,295.05 385.44,289.00 385.35,288.72 385.08,288.60"/></g>
<g fill="#071107"><polygon points="409.11,283.30 408.77,283.47 408.68,283.83 409.59,287.43 409.72,287.63 409.94,287.70 415.39,287.70 415.63,287.63 415.80,287.43 417.41,283.83 417.40,283.47 417.09,283.30"/><polygon points="420.09,286.44 420.02,286.19 418.74,284.44 418.51,284.30 418.23,284.35 418.04,284.56 416.23,288.60 415.28,288.60 414.98,288.72 414.84,289.00 414.24,295.05 414.33,295.33 414.60,295.45 414.63,295.45 416.91,297.98 417.18,298.10 417.38,298.10 417.70,297.96 419.00,296.56 419.12,296.31"/><polygon points="418.68,300.79 418.61,300.54 417.59,299.14 417.29,299.00 417.09,299.00 416.80,299.12 414.02,301.65 414.00,301.65 413.70,301.77 413.56,302.05 412.96,308.10 413.05,308.38 413.32,308.50 414.27,308.50 415.29,312.54 415.44,312.75 415.71,312.80 415.96,312.66 417.59,310.91 417.71,310.66"/><polygon points="405.79,313.27 405.80,313.63 406.11,313.80 414.09,313.80 414.43,313.63 414.52,313.27 413.61,309.67 413.48,309.47 413.26,309.40 407.81,309.40 407.57,309.47 407.40,309.67"/><polygon points="408.57,301.65 406.29,299.12 406.02,299.00 405.82,299.00 405.50,299.14 404.20,300.54 404.08,300.79 403.11,310.66 403.18,310.91 404.46,312.66 404.69,312.80 404.97,312.75 405.16,312.54 406.97,308.50 407.92,308.50 408.22,308.38 408.36,308.10 408.96,302.05 408.87,301.77 408.60,301.65"/><polygon points="408.93,288.60 407.91,284.56 407.76,284.35 407.49,284.30 407.24,284.44 405.61,286.19 405.49,286.44 404.52,296.31 404.59,296.56 405.61,297.96 405.91,298.10 406.11,298.10 406.40,297.98 409.18,295.45 409.20,295.45 409.50,295.33 409.64,295.05 410.24,289.00 410.15,288.72 409.88,288.60"/></g>
<g fill="#071107"><polygon points="433.91,283.30 433.57,283.47 433.48,283.83 434.39,287.43 434.52,287.63 434.74,287.70 440.19,287.70 440.43,287.63 440.60,287.43 442.21,283.83 442.20,283.47 441.89,283.30"/><polygon points="444.89,286.44 444.82,286.19 443.54,284.44 443.31,284.30 443.03,284.35 442.84,284.56 441.03,288.60 440.08,288.60 439.78,288.72 439.64,289.00 439.04,295.05 439.13,295.33 439.40,295.45 439.43,295.45 441.71,297.98 441.98,298.10 442.18,298.10 442.50,297.96 443.80,296.56 443.92,296.31"/><polygon points="443.48,300.79 443.41,300.54 442.39,299.14 442.09,299.00 441.89,299.00 441.60,299.12 438.82,301.65 438.80,301.65 438.50,301.77 438.36,302.05 437.76,308.10 437.85,308.38 438.12,308.50 439.07,308.50 440.09,312.54 440.24,312.75 440.51,312.80 440.76,312.66 442.39,310.91 442.51,310.66"/><polygon points="430.59,313.27 430.60,313.63 430.91,313.80 438.89,313.80 439.23,313.63 439.32,313.27 438.41,309.67 438.28,309.47 438.06,309.40 432.61,309.40 432.37,309.47 432.20,309.67"/><polygon points="433.37,301.65 431.09,299.12 430.82,299.00 430.62,299.00 430.30,299.14 429.00,300.54 428.88,300.79 427.91,310.66 427.98,310.91 429.26,312.66 429.49,312.80 429.77,312.75 429.96,312.54 431.77,308.50 432.72,308.50 433.02,308.38 433.16,308.10 433.76,302.05 433.67,301.77 433.40,301.65"/><polygon points="433.73,288.60 432.71,284.56 432.56,284.35 432.29,284.30 432.04,284.44 430.41,286.19 430.29,286.44 429.32,296.31 429.39,296.56 430.41,297.96 430.71,298.10 430.91,298.10 431.20,297.98 433.98,295.45 434.00,295.45 434.30,295.33 434.44,295.05 435.04,289.00 434.95,288.72 434.68,288.60"/></g>
<circle cx="349.2" cy="290.8" r="1.3" fill="#071107"/>
<circle cx="348.0" cy="305.2" r="1.3" fill="#071107"/>
<circle cx="398.8" cy="290.8" r="1.3" fill="#071107"/>
<circle cx="397.6" cy="305.2" r="1.3" fill="#071107"/>
<g font-family="Liberation Serif" font-weight="bold" fill="#d6d6d6">
<text x="298.6" y="332.3" font-size="10.5" textLength="23.4" lengthAdjust="spacing">SET</text>
<text x="345.3" y="332.3" font-size="9.5" textLength="40.7" lengthAdjust="spacingAndGlyphs">SD-577C</text>
<text x="405.8" y="332.3" font-size="10.5" textLength="29.5" lengthAdjust="spacing">MODE</text>
</g>
<text x="167.02" y="96.3" font-family="Liberation Sans" font-weight="normal" fill="#1a1a1a" font-size="17.5" textLength="76.57" lengthAdjust="spacingAndGlyphs">Heart rate</text>
<text x="167.03" y="155.6" font-family="Liberation Sans" font-weight="normal" fill="#1a1a1a" font-size="17.5" textLength="50.03" lengthAdjust="spacingAndGlyphs">Speed</text>
<text x="166.60" y="207.5" font-family="Liberation Sans" font-weight="normal" fill="#1a1a1a" font-size="17.5" textLength="66.93" lengthAdjust="spacingAndGlyphs">Function</text>
<text x="175.06" y="286.6" font-family="Liberation Sans" font-weight="normal" fill="#1a1a1a" font-size="17.5" textLength="41.95" lengthAdjust="spacingAndGlyphs">Clock</text>
<text x="498.83" y="96.4" font-family="Liberation Sans" font-weight="normal" fill="#1a1a1a" font-size="17.5" textLength="69.51" lengthAdjust="spacingAndGlyphs">Cadence</text>
<text x="303.48" y="423.6" font-family="Liberation Sans" font-weight="normal" fill="#1a1a1a" font-size="14.8" textLength="27.87" lengthAdjust="spacingAndGlyphs">SET</text>
<text x="397.45" y="423.6" font-family="Liberation Sans" font-weight="normal" fill="#1a1a1a" font-size="14.8" textLength="43.91" lengthAdjust="spacingAndGlyphs">MOOE</text>
<line x1="168.7" y1="102.2" x2="296.5" y2="102.2" stroke="#1e1e1e" stroke-width="1.1"/>
<line x1="168" y1="162.4" x2="296" y2="162.4" stroke="#1e1e1e" stroke-width="1.1"/>
<line x1="168" y1="215" x2="296" y2="215" stroke="#1e1e1e" stroke-width="1.1"/>
<line x1="177.7" y1="293" x2="296" y2="293" stroke="#1e1e1e" stroke-width="1.1"/>
<line x1="444" y1="102" x2="564.4" y2="102" stroke="#1e1e1e" stroke-width="1.1"/>
<line x1="319.3" y1="390" x2="319.3" y2="408" stroke="#1e1e1e" stroke-width="1"/>
<line x1="419.6" y1="390" x2="419.6" y2="408" stroke="#1e1e1e" stroke-width="1"/>
<path d="M280.6,705 L280.6,470 Q280.6,447.3 303,447.3 L433,447.3 Q455.3,447.3 455.3,470 L455.3,705 Q454,716 444.3,723 Q439.9,726.3 434.7,726.3 L301.2,726.3 Q296,726.3 291.6,723 Q282,716 280.6,705 Z" fill="none" stroke="#2a2a2a" stroke-width="1.1"/>
<path d="M284.6,705 L284.6,470 Q284.6,451.7 303,451.7 L433,451.7 Q451.3,451.7 451.3,470 L451.3,705 L445.9,717.2 L435.2,722 L300.7,722 L290,717.2 Z" fill="none" stroke="#2a2a2a" stroke-width="1.1"/>
<path d="M283,715.6 L290,726.3 L298.5,730 L340.7,730 L340.7,726.3" fill="none" stroke="#2a2a2a" stroke-width="1"/>
<path d="M395.2,726.3 L395.2,730 L437.4,730 L445.9,726.3 L452.9,715.6" fill="none" stroke="#2a2a2a" stroke-width="1"/>
<path d="M294.8,690.8 L294.8,468 Q294.8,460.5 302.3,460.5 L434.9,460.5 Q442.4,460.5 442.4,468 L442.4,690.8 Z" fill="none" stroke="#2a2a2a" stroke-width="1.1"/>
<line x1="295" y1="476.3" x2="442.3" y2="476.3" stroke="#2a2a2a" stroke-width="1"/>
<line x1="295" y1="675.6" x2="442.3" y2="675.6" stroke="#2a2a2a" stroke-width="1"/>
<rect x="306" y="511.9" width="128.6" height="1.6" fill="#1e1e1e"/>
<rect x="305.6" y="573.5" width="128.8" height="1.9" fill="#1e1e1e"/>
<rect x="305.6" y="640.5" width="128.8" height="1.6" fill="#1e1e1e"/>
<path d="M308,495.67 L302.09999999999997,489.748 A3.15,3.15 0 0 1 308,486.22 A3.15,3.15 0 0 1 313.90000000000003,489.748 Z" fill="#111"/>
<g fill="#111"><polygon points="323.11,479.20 322.76,479.37 322.67,479.73 323.22,482.13 323.34,482.33 323.57,482.40 328.07,482.40 328.31,482.33 328.48,482.13 329.60,479.73 329.60,479.37 329.29,479.20"/><polygon points="331.70,481.68 331.64,481.43 330.83,480.29 330.61,480.16 330.33,480.20 330.13,480.42 328.82,483.20 328.02,483.20 327.72,483.32 327.57,483.60 326.84,489.75 326.92,490.03 327.19,490.15 327.27,490.15 328.93,492.03 329.20,492.15 329.23,492.15 329.55,492.01 330.49,491.02 330.61,490.77"/><polygon points="330.19,494.33 330.12,494.08 329.42,493.09 329.13,492.95 329.10,492.95 328.81,493.07 326.70,494.95 326.61,494.95 326.32,495.07 326.16,495.35 325.43,501.50 325.51,501.78 325.78,501.90 326.58,501.90 327.22,504.68 327.37,504.90 327.64,504.94 327.89,504.81 328.97,503.67 329.10,503.42"/><polygon points="319.60,505.37 319.60,505.73 319.91,505.90 326.09,505.90 326.44,505.73 326.53,505.37 325.98,502.97 325.86,502.77 325.63,502.70 321.13,502.70 320.89,502.77 320.72,502.97"/><polygon points="321.93,494.95 320.27,493.07 320.00,492.95 319.97,492.95 319.65,493.09 318.71,494.08 318.59,494.33 317.50,503.42 317.56,503.67 318.37,504.81 318.59,504.94 318.87,504.90 319.07,504.68 320.38,501.90 321.18,501.90 321.48,501.78 321.63,501.50 322.36,495.35 322.28,495.07 322.01,494.95"/><polygon points="322.62,483.20 321.98,480.42 321.83,480.20 321.56,480.16 321.31,480.29 320.23,481.43 320.10,481.68 319.01,490.77 319.08,491.02 319.78,492.01 320.07,492.15 320.10,492.15 320.39,492.03 322.50,490.15 322.59,490.15 322.88,490.03 323.04,489.75 323.77,483.60 323.69,483.32 323.42,483.20"/><polygon points="321.26,492.27 321.11,492.55 321.19,492.83 322.25,494.03 322.52,494.15 326.30,494.15 326.59,494.03 327.94,492.83 328.09,492.55 328.01,492.27 326.95,491.07 326.68,490.95 322.90,490.95 322.61,491.07"/></g>
<g fill="#111"><polygon points="340.71,479.20 340.36,479.37 340.27,479.73 340.82,482.13 340.94,482.33 341.17,482.40 345.67,482.40 345.91,482.33 346.08,482.13 347.20,479.73 347.20,479.37 346.89,479.20"/><polygon points="349.30,481.68 349.24,481.43 348.43,480.29 348.21,480.16 347.93,480.20 347.73,480.42 346.42,483.20 345.62,483.20 345.32,483.32 345.17,483.60 344.44,489.75 344.52,490.03 344.79,490.15 344.87,490.15 346.53,492.03 346.80,492.15 346.83,492.15 347.15,492.01 348.09,491.02 348.21,490.77"/><polygon points="347.79,494.33 347.72,494.08 347.02,493.09 346.73,492.95 346.70,492.95 346.41,493.07 344.30,494.95 344.21,494.95 343.92,495.07 343.76,495.35 343.03,501.50 343.11,501.78 343.38,501.90 344.18,501.90 344.82,504.68 344.97,504.90 345.24,504.94 345.49,504.81 346.57,503.67 346.70,503.42"/><polygon points="337.20,505.37 337.20,505.73 337.51,505.90 343.69,505.90 344.04,505.73 344.13,505.37 343.58,502.97 343.46,502.77 343.23,502.70 338.73,502.70 338.49,502.77 338.32,502.97"/><polygon points="339.53,494.95 337.87,493.07 337.60,492.95 337.57,492.95 337.25,493.09 336.31,494.08 336.19,494.33 335.10,503.42 335.16,503.67 335.97,504.81 336.19,504.94 336.47,504.90 336.67,504.68 337.98,501.90 338.78,501.90 339.08,501.78 339.23,501.50 339.96,495.35 339.88,495.07 339.61,494.95"/><polygon points="340.22,483.20 339.58,480.42 339.43,480.20 339.16,480.16 338.91,480.29 337.83,481.43 337.70,481.68 336.61,490.77 336.68,491.02 337.38,492.01 337.67,492.15 337.70,492.15 337.99,492.03 340.10,490.15 340.19,490.15 340.48,490.03 340.64,489.75 341.37,483.60 341.29,483.32 341.02,483.20"/><polygon points="338.86,492.27 338.71,492.55 338.79,492.83 339.85,494.03 340.12,494.15 343.90,494.15 344.19,494.03 345.54,492.83 345.69,492.55 345.61,492.27 344.55,491.07 344.28,490.95 340.50,490.95 340.21,491.07"/></g>
<g fill="#111"><polygon points="358.31,479.20 357.96,479.37 357.87,479.73 358.42,482.13 358.54,482.33 358.77,482.40 363.27,482.40 363.51,482.33 363.68,482.13 364.80,479.73 364.80,479.37 364.49,479.20"/><polygon points="366.90,481.68 366.84,481.43 366.03,480.29 365.81,480.16 365.53,480.20 365.33,480.42 364.02,483.20 363.22,483.20 362.92,483.32 362.77,483.60 362.04,489.75 362.12,490.03 362.39,490.15 362.47,490.15 364.13,492.03 364.40,492.15 364.43,492.15 364.75,492.01 365.69,491.02 365.81,490.77"/><polygon points="365.39,494.33 365.32,494.08 364.62,493.09 364.33,492.95 364.30,492.95 364.01,493.07 361.90,494.95 361.81,494.95 361.52,495.07 361.36,495.35 360.63,501.50 360.71,501.78 360.98,501.90 361.78,501.90 362.42,504.68 362.57,504.90 362.84,504.94 363.09,504.81 364.17,503.67 364.30,503.42"/><polygon points="354.80,505.37 354.80,505.73 355.11,505.90 361.29,505.90 361.64,505.73 361.73,505.37 361.18,502.97 361.06,502.77 360.83,502.70 356.33,502.70 356.09,502.77 355.92,502.97"/><polygon points="357.13,494.95 355.47,493.07 355.20,492.95 355.17,492.95 354.85,493.09 353.91,494.08 353.79,494.33 352.70,503.42 352.76,503.67 353.57,504.81 353.79,504.94 354.07,504.90 354.27,504.68 355.58,501.90 356.38,501.90 356.68,501.78 356.83,501.50 357.56,495.35 357.48,495.07 357.21,494.95"/><polygon points="357.82,483.20 357.18,480.42 357.03,480.20 356.76,480.16 356.51,480.29 355.43,481.43 355.30,481.68 354.21,490.77 354.28,491.02 354.98,492.01 355.27,492.15 355.30,492.15 355.59,492.03 357.70,490.15 357.79,490.15 358.08,490.03 358.24,489.75 358.97,483.60 358.89,483.32 358.62,483.20"/><polygon points="356.46,492.27 356.31,492.55 356.39,492.83 357.45,494.03 357.72,494.15 361.50,494.15 361.79,494.03 363.14,492.83 363.29,492.55 363.21,492.27 362.15,491.07 361.88,490.95 358.10,490.95 357.81,491.07"/></g>
<g fill="#111"><polygon points="393.81,479.20 393.46,479.37 393.37,479.73 393.92,482.13 394.04,482.33 394.27,482.40 398.77,482.40 399.01,482.33 399.18,482.13 400.30,479.73 400.30,479.37 399.99,479.20"/><polygon points="402.40,481.68 402.34,481.43 401.53,480.29 401.31,480.16 401.03,480.20 400.83,480.42 399.52,483.20 398.72,483.20 398.42,483.32 398.27,483.60 397.54,489.75 397.62,490.03 397.89,490.15 397.97,490.15 399.63,492.03 399.90,492.15 399.93,492.15 400.25,492.01 401.19,491.02 401.31,490.77"/><polygon points="400.89,494.33 400.82,494.08 400.12,493.09 399.83,492.95 399.80,492.95 399.51,493.07 397.40,494.95 397.31,494.95 397.02,495.07 396.86,495.35 396.13,501.50 396.21,501.78 396.48,501.90 397.28,501.90 397.92,504.68 398.07,504.90 398.34,504.94 398.59,504.81 399.67,503.67 399.80,503.42"/><polygon points="390.30,505.37 390.30,505.73 390.61,505.90 396.79,505.90 397.14,505.73 397.23,505.37 396.68,502.97 396.56,502.77 396.33,502.70 391.83,502.70 391.59,502.77 391.42,502.97"/><polygon points="392.63,494.95 390.97,493.07 390.70,492.95 390.67,492.95 390.35,493.09 389.41,494.08 389.29,494.33 388.20,503.42 388.26,503.67 389.07,504.81 389.29,504.94 389.57,504.90 389.77,504.68 391.08,501.90 391.88,501.90 392.18,501.78 392.33,501.50 393.06,495.35 392.98,495.07 392.71,494.95"/><polygon points="393.32,483.20 392.68,480.42 392.53,480.20 392.26,480.16 392.01,480.29 390.93,481.43 390.80,481.68 389.71,490.77 389.78,491.02 390.48,492.01 390.77,492.15 390.80,492.15 391.09,492.03 393.20,490.15 393.29,490.15 393.58,490.03 393.74,489.75 394.47,483.60 394.39,483.32 394.12,483.20"/><polygon points="391.96,492.27 391.81,492.55 391.89,492.83 392.95,494.03 393.22,494.15 397.00,494.15 397.29,494.03 398.64,492.83 398.79,492.55 398.71,492.27 397.65,491.07 397.38,490.95 393.60,490.95 393.31,491.07"/></g>
<g fill="#111"><polygon points="411.46,479.20 411.11,479.37 411.02,479.73 411.57,482.13 411.69,482.33 411.92,482.40 416.42,482.40 416.66,482.33 416.83,482.13 417.95,479.73 417.95,479.37 417.64,479.20"/><polygon points="420.05,481.68 419.99,481.43 419.18,480.29 418.96,480.16 418.68,480.20 418.48,480.42 417.17,483.20 416.37,483.20 416.07,483.32 415.92,483.60 415.19,489.75 415.27,490.03 415.54,490.15 415.62,490.15 417.28,492.03 417.55,492.15 417.58,492.15 417.90,492.01 418.84,491.02 418.96,490.77"/><polygon points="418.54,494.33 418.47,494.08 417.77,493.09 417.48,492.95 417.45,492.95 417.16,493.07 415.05,494.95 414.96,494.95 414.67,495.07 414.51,495.35 413.78,501.50 413.86,501.78 414.13,501.90 414.93,501.90 415.57,504.68 415.72,504.90 415.99,504.94 416.24,504.81 417.32,503.67 417.45,503.42"/><polygon points="407.95,505.37 407.95,505.73 408.26,505.90 414.44,505.90 414.79,505.73 414.88,505.37 414.33,502.97 414.21,502.77 413.98,502.70 409.48,502.70 409.24,502.77 409.07,502.97"/><polygon points="410.28,494.95 408.62,493.07 408.35,492.95 408.32,492.95 408.00,493.09 407.06,494.08 406.94,494.33 405.85,503.42 405.91,503.67 406.72,504.81 406.94,504.94 407.22,504.90 407.42,504.68 408.73,501.90 409.53,501.90 409.83,501.78 409.98,501.50 410.71,495.35 410.63,495.07 410.36,494.95"/><polygon points="410.97,483.20 410.33,480.42 410.18,480.20 409.91,480.16 409.66,480.29 408.58,481.43 408.45,481.68 407.36,490.77 407.43,491.02 408.13,492.01 408.42,492.15 408.45,492.15 408.74,492.03 410.85,490.15 410.94,490.15 411.23,490.03 411.39,489.75 412.12,483.60 412.04,483.32 411.77,483.20"/><polygon points="409.61,492.27 409.46,492.55 409.54,492.83 410.60,494.03 410.87,494.15 414.65,494.15 414.94,494.03 416.29,492.83 416.44,492.55 416.36,492.27 415.30,491.07 415.03,490.95 411.25,490.95 410.96,491.07"/></g>
<g fill="#111"><polygon points="429.11,479.20 428.76,479.37 428.67,479.73 429.22,482.13 429.34,482.33 429.57,482.40 434.07,482.40 434.31,482.33 434.48,482.13 435.60,479.73 435.60,479.37 435.29,479.20"/><polygon points="437.70,481.68 437.64,481.43 436.83,480.29 436.61,480.16 436.33,480.20 436.13,480.42 434.82,483.20 434.02,483.20 433.72,483.32 433.57,483.60 432.84,489.75 432.92,490.03 433.19,490.15 433.27,490.15 434.93,492.03 435.20,492.15 435.23,492.15 435.55,492.01 436.49,491.02 436.61,490.77"/><polygon points="436.19,494.33 436.12,494.08 435.42,493.09 435.13,492.95 435.10,492.95 434.81,493.07 432.70,494.95 432.61,494.95 432.32,495.07 432.16,495.35 431.43,501.50 431.51,501.78 431.78,501.90 432.58,501.90 433.22,504.68 433.37,504.90 433.64,504.94 433.89,504.81 434.97,503.67 435.10,503.42"/><polygon points="425.60,505.37 425.60,505.73 425.91,505.90 432.09,505.90 432.44,505.73 432.53,505.37 431.98,502.97 431.86,502.77 431.63,502.70 427.13,502.70 426.89,502.77 426.72,502.97"/><polygon points="427.93,494.95 426.27,493.07 426.00,492.95 425.97,492.95 425.65,493.09 424.71,494.08 424.59,494.33 423.50,503.42 423.56,503.67 424.37,504.81 424.59,504.94 424.87,504.90 425.07,504.68 426.38,501.90 427.18,501.90 427.48,501.78 427.63,501.50 428.36,495.35 428.28,495.07 428.01,494.95"/><polygon points="428.62,483.20 427.98,480.42 427.83,480.20 427.56,480.16 427.31,480.29 426.23,481.43 426.10,481.68 425.01,490.77 425.08,491.02 425.78,492.01 426.07,492.15 426.10,492.15 426.39,492.03 428.50,490.15 428.59,490.15 428.88,490.03 429.04,489.75 429.77,483.60 429.69,483.32 429.42,483.20"/><polygon points="427.26,492.27 427.11,492.55 427.19,492.83 428.25,494.03 428.52,494.15 432.30,494.15 432.59,494.03 433.94,492.83 434.09,492.55 434.01,492.27 432.95,491.07 432.68,490.95 428.90,490.95 428.61,491.07"/></g>
<path d="M374,482 L378,478 L382,482 Z M374,502 L378,506 L382,502 Z" fill="#111"/>
<polyline points="377.5,485 375,490 380,494 377.5,500" fill="none" stroke="#111" stroke-width="1.3"/>
<rect x="417.2" y="516.2" width="15.5" height="4.3" fill="#4a4a4a"/><rect x="418.5" y="517.6" width="12" height="1.5" fill="#9a9a9a"/>
<rect x="431.6" y="516.2" width="2.8" height="4.3" rx="1" fill="#111"/>
<circle cx="317.7" cy="529.5" r="6.3" fill="none" stroke="#111" stroke-width="1"/>
<line x1="317.8" y1="525.2" x2="317.6" y2="533.8" stroke="#111" stroke-width="1.3"/>
<g fill="#111"><polygon points="333.19,542.37 333.37,541.98 335.18,523.62 335.08,523.23 332.71,519.96 332.27,519.74 331.78,519.96 328.76,523.23 328.58,523.62 326.77,541.98 326.87,542.37 327.82,543.68 328.26,543.90 331.49,543.90 331.98,543.68"/><polygon points="326.41,547.03 326.23,547.42 324.42,565.78 324.52,566.17 326.89,569.44 327.33,569.66 327.82,569.44 330.84,566.17 331.02,565.78 332.83,547.42 332.73,547.03 331.78,545.72 331.34,545.50 328.11,545.50 327.62,545.72"/></g>
<g fill="#111"><polygon points="348.24,519.20 347.72,519.45 347.58,520.00 348.89,525.40 349.08,525.69 349.41,525.80 365.06,525.80 365.42,525.69 365.67,525.40 368.14,520.00 368.13,519.45 367.66,519.20"/><polygon points="372.27,524.10 372.17,523.71 370.10,520.85 369.76,520.64 369.34,520.71 369.05,521.03 366.27,527.10 364.75,527.10 364.30,527.28 364.08,527.70 362.81,539.50 362.94,539.92 363.35,540.10 363.49,540.10 366.86,543.87 367.27,544.05 367.65,544.05 368.13,543.83 370.25,541.59 370.43,541.21"/><polygon points="369.67,548.19 369.58,547.81 367.95,545.57 367.51,545.35 367.13,545.35 366.68,545.53 362.50,549.30 362.35,549.30 361.91,549.48 361.69,549.90 360.42,561.70 360.55,562.12 360.95,562.30 362.47,562.30 363.94,568.37 364.17,568.69 364.57,568.76 364.95,568.55 367.65,565.69 367.83,565.30"/><polygon points="342.26,569.40 342.27,569.95 342.74,570.20 362.16,570.20 362.68,569.95 362.82,569.40 361.51,564.00 361.32,563.71 360.99,563.60 345.34,563.60 344.98,563.71 344.73,564.00"/><polygon points="346.91,549.30 343.54,545.53 343.13,545.35 342.75,545.35 342.27,545.57 340.15,547.81 339.97,548.19 338.13,565.30 338.23,565.69 340.30,568.55 340.64,568.76 341.06,568.69 341.35,568.37 344.13,562.30 345.65,562.30 346.10,562.12 346.32,561.70 347.59,549.90 347.46,549.48 347.05,549.30"/><polygon points="347.93,527.10 346.46,521.03 346.23,520.71 345.83,520.64 345.45,520.85 342.75,523.71 342.57,524.10 340.73,541.21 340.82,541.59 342.45,543.83 342.89,544.05 343.27,544.05 343.72,543.87 347.90,540.10 348.05,540.10 348.49,539.92 348.71,539.50 349.98,527.70 349.85,527.28 349.45,527.10"/><polygon points="345.11,544.28 344.89,544.70 345.02,545.12 347.43,547.82 347.83,548.00 361.86,548.00 362.30,547.82 365.29,545.12 365.51,544.70 365.38,544.28 362.97,541.58 362.57,541.40 348.54,541.40 348.10,541.58"/></g>
<g fill="#111"><polygon points="384.84,519.20 384.32,519.45 384.18,520.00 385.49,525.40 385.68,525.69 386.01,525.80 401.66,525.80 402.02,525.69 402.27,525.40 404.74,520.00 404.73,519.45 404.26,519.20"/><polygon points="408.87,524.10 408.77,523.71 406.70,520.85 406.36,520.64 405.94,520.71 405.65,521.03 402.87,527.10 401.35,527.10 400.90,527.28 400.68,527.70 399.41,539.50 399.54,539.92 399.95,540.10 400.09,540.10 403.46,543.87 403.87,544.05 404.25,544.05 404.73,543.83 406.85,541.59 407.03,541.21"/><polygon points="406.27,548.19 406.18,547.81 404.55,545.57 404.11,545.35 403.73,545.35 403.28,545.53 399.10,549.30 398.95,549.30 398.51,549.48 398.29,549.90 397.02,561.70 397.15,562.12 397.55,562.30 399.07,562.30 400.54,568.37 400.77,568.69 401.17,568.76 401.55,568.55 404.25,565.69 404.43,565.30"/><polygon points="378.86,569.40 378.87,569.95 379.34,570.20 398.76,570.20 399.28,569.95 399.42,569.40 398.11,564.00 397.92,563.71 397.59,563.60 381.94,563.60 381.58,563.71 381.33,564.00"/><polygon points="383.51,549.30 380.14,545.53 379.73,545.35 379.35,545.35 378.87,545.57 376.75,547.81 376.57,548.19 374.73,565.30 374.83,565.69 376.90,568.55 377.24,568.76 377.66,568.69 377.95,568.37 380.73,562.30 382.25,562.30 382.70,562.12 382.92,561.70 384.19,549.90 384.06,549.48 383.65,549.30"/><polygon points="384.53,527.10 383.06,521.03 382.83,520.71 382.43,520.64 382.05,520.85 379.35,523.71 379.17,524.10 377.33,541.21 377.42,541.59 379.05,543.83 379.49,544.05 379.87,544.05 380.32,543.87 384.50,540.10 384.65,540.10 385.09,539.92 385.31,539.50 386.58,527.70 386.45,527.28 386.05,527.10"/><polygon points="381.71,544.28 381.49,544.70 381.62,545.12 384.03,547.82 384.43,548.00 398.46,548.00 398.90,547.82 401.89,545.12 402.11,544.70 401.98,544.28 399.57,541.58 399.17,541.40 385.14,541.40 384.70,541.58"/></g>
<text x="412.63" y="534.9" font-family="Liberation Sans" font-weight="normal" fill="#111" font-size="12.2" textLength="22.59" lengthAdjust="spacingAndGlyphs">KM/h</text>
<g fill="#111"><polygon points="418.79,539.40 418.45,539.57 418.36,539.93 419.16,543.13 419.29,543.33 419.51,543.40 427.49,543.40 427.73,543.33 427.89,543.13 429.33,539.93 429.32,539.57 429.01,539.40"/><polygon points="431.81,542.30 431.74,542.05 430.65,540.55 430.42,540.42 430.15,540.46 429.95,540.68 428.32,544.30 427.41,544.30 427.12,544.42 426.97,544.70 426.43,550.10 426.52,550.38 426.79,550.50 426.83,550.50 428.93,552.83 429.20,552.95 429.32,552.95 429.64,552.81 430.79,551.58 430.91,551.32"/><polygon points="430.49,555.48 430.43,555.22 429.53,553.99 429.23,553.85 429.11,553.85 428.82,553.97 426.25,556.30 426.21,556.30 425.92,556.42 425.77,556.70 425.23,562.10 425.32,562.38 425.59,562.50 426.50,562.50 427.40,566.12 427.56,566.34 427.82,566.38 428.08,566.25 429.47,564.75 429.59,564.50"/><polygon points="415.67,566.87 415.68,567.23 415.99,567.40 426.21,567.40 426.55,567.23 426.64,566.87 425.84,563.67 425.71,563.47 425.49,563.40 417.51,563.40 417.27,563.47 417.11,563.67"/><polygon points="418.17,556.30 416.07,553.97 415.80,553.85 415.68,553.85 415.36,553.99 414.21,555.22 414.09,555.48 413.19,564.50 413.26,564.75 414.35,566.25 414.58,566.38 414.85,566.34 415.05,566.12 416.68,562.50 417.59,562.50 417.88,562.38 418.03,562.10 418.57,556.70 418.48,556.42 418.21,556.30"/><polygon points="418.50,544.30 417.60,540.68 417.44,540.46 417.18,540.42 416.92,540.55 415.53,542.05 415.41,542.30 414.51,551.32 414.57,551.58 415.47,552.81 415.77,552.95 415.89,552.95 416.18,552.83 418.75,550.50 418.79,550.50 419.08,550.38 419.23,550.10 419.77,544.70 419.68,544.42 419.41,544.30"/><polygon points="417.14,553.12 417.00,553.40 417.08,553.68 418.52,555.28 418.80,555.40 425.80,555.40 426.10,555.28 427.86,553.68 428.00,553.40 427.92,553.12 426.48,551.52 426.20,551.40 419.20,551.40 418.90,551.52"/></g>
<path d="M311.3,552 L317.2,543.4 L323,552 L320.3,552 L317.2,547.3 L314,552 Z" fill="#111"/>
<path d="M311.3,555 L317.2,564.3 L323,555 L320.3,555 L317.2,559.8 L314,555 Z" fill="#111"/>
<path d="M310.5,583.1 L328.2,583.1" stroke="#111" stroke-width="1.9"/>
<path d="M307.2,580.9 A2.6,2.6 0 1 1 307.2,585.5" fill="none" stroke="#111" stroke-width="1.9"/>
<rect x="310.9" y="588.3" width="10.2" height="3.2" rx="1.6" fill="#111"/>
<text x="302.08" y="599.7" font-family="Liberation Sans" font-weight="bold" fill="#333" font-size="7.4" textLength="25.63" lengthAdjust="spacing">SCAN</text>
<g fill="#111"><polygon points="336.10,578.40 335.76,578.57 335.67,578.93 336.49,582.33 336.62,582.53 336.84,582.60 342.66,582.60 342.90,582.53 343.06,582.33 344.62,578.93 344.60,578.57 344.30,578.40"/><polygon points="347.18,581.42 347.11,581.17 345.93,579.55 345.71,579.41 345.43,579.46 345.23,579.67 343.48,583.50 342.55,583.50 342.26,583.62 342.11,583.90 341.56,589.00 341.65,589.28 341.92,589.40 341.95,589.40 344.13,591.83 344.40,591.95 344.56,591.95 344.88,591.81 346.11,590.50 346.23,590.24"/><polygon points="345.77,594.56 345.70,594.30 344.75,592.99 344.46,592.85 344.30,592.85 344.00,592.97 341.31,595.40 341.28,595.40 340.98,595.52 340.84,595.80 340.29,600.90 340.38,601.18 340.65,601.30 341.57,601.30 342.51,605.13 342.66,605.34 342.92,605.39 343.18,605.25 344.70,603.63 344.82,603.38"/><polygon points="332.78,605.87 332.80,606.23 333.10,606.40 341.30,606.40 341.64,606.23 341.73,605.87 340.91,602.47 340.78,602.27 340.56,602.20 334.74,602.20 334.50,602.27 334.34,602.47"/><polygon points="335.45,595.40 333.27,592.97 333.00,592.85 332.84,592.85 332.52,592.99 331.29,594.30 331.17,594.56 330.22,603.38 330.29,603.63 331.47,605.25 331.69,605.39 331.97,605.34 332.17,605.13 333.92,601.30 334.85,601.30 335.14,601.18 335.29,600.90 335.84,595.80 335.75,595.52 335.48,595.40"/><polygon points="335.83,583.50 334.89,579.67 334.74,579.46 334.48,579.41 334.22,579.55 332.70,581.17 332.58,581.42 331.63,590.24 331.70,590.50 332.65,591.81 332.94,591.95 333.10,591.95 333.40,591.83 336.09,589.40 336.12,589.40 336.42,589.28 336.56,589.00 337.11,583.90 337.02,583.62 336.75,583.50"/><polygon points="334.35,592.12 334.21,592.40 334.29,592.68 335.81,594.38 336.08,594.50 340.87,594.50 341.16,594.38 343.05,592.68 343.19,592.40 343.11,592.12 341.59,590.42 341.32,590.30 336.53,590.30 336.24,590.42"/></g>
<g fill="#111"><polygon points="357.40,578.40 357.06,578.57 356.97,578.93 357.79,582.33 357.92,582.53 358.14,582.60 363.96,582.60 364.20,582.53 364.36,582.33 365.92,578.93 365.90,578.57 365.60,578.40"/><polygon points="368.48,581.42 368.41,581.17 367.23,579.55 367.01,579.41 366.73,579.46 366.53,579.67 364.78,583.50 363.85,583.50 363.56,583.62 363.41,583.90 362.86,589.00 362.95,589.28 363.22,589.40 363.25,589.40 365.43,591.83 365.70,591.95 365.86,591.95 366.18,591.81 367.41,590.50 367.53,590.24"/><polygon points="367.07,594.56 367.00,594.30 366.05,592.99 365.76,592.85 365.60,592.85 365.30,592.97 362.61,595.40 362.58,595.40 362.28,595.52 362.14,595.80 361.59,600.90 361.68,601.18 361.95,601.30 362.87,601.30 363.81,605.13 363.96,605.34 364.22,605.39 364.48,605.25 366.00,603.63 366.12,603.38"/><polygon points="354.08,605.87 354.10,606.23 354.40,606.40 362.60,606.40 362.94,606.23 363.03,605.87 362.21,602.47 362.08,602.27 361.86,602.20 356.04,602.20 355.80,602.27 355.64,602.47"/><polygon points="356.75,595.40 354.57,592.97 354.30,592.85 354.14,592.85 353.82,592.99 352.59,594.30 352.47,594.56 351.52,603.38 351.59,603.63 352.77,605.25 352.99,605.39 353.27,605.34 353.47,605.13 355.22,601.30 356.15,601.30 356.44,601.18 356.59,600.90 357.14,595.80 357.05,595.52 356.78,595.40"/><polygon points="357.13,583.50 356.19,579.67 356.04,579.46 355.78,579.41 355.52,579.55 354.00,581.17 353.88,581.42 352.93,590.24 353.00,590.50 353.95,591.81 354.24,591.95 354.40,591.95 354.70,591.83 357.39,589.40 357.42,589.40 357.72,589.28 357.86,589.00 358.41,583.90 358.32,583.62 358.05,583.50"/><polygon points="355.65,592.12 355.51,592.40 355.59,592.68 357.11,594.38 357.38,594.50 362.17,594.50 362.46,594.38 364.35,592.68 364.49,592.40 364.41,592.12 362.89,590.42 362.62,590.30 357.83,590.30 357.54,590.42"/></g>
<g fill="#111"><polygon points="378.70,578.40 378.36,578.57 378.27,578.93 379.09,582.33 379.22,582.53 379.44,582.60 385.26,582.60 385.50,582.53 385.66,582.33 387.22,578.93 387.20,578.57 386.90,578.40"/><polygon points="389.78,581.42 389.71,581.17 388.53,579.55 388.31,579.41 388.03,579.46 387.83,579.67 386.08,583.50 385.15,583.50 384.86,583.62 384.71,583.90 384.16,589.00 384.25,589.28 384.52,589.40 384.55,589.40 386.73,591.83 387.00,591.95 387.16,591.95 387.48,591.81 388.71,590.50 388.83,590.24"/><polygon points="388.37,594.56 388.30,594.30 387.35,592.99 387.06,592.85 386.90,592.85 386.60,592.97 383.91,595.40 383.88,595.40 383.58,595.52 383.44,595.80 382.89,600.90 382.98,601.18 383.25,601.30 384.17,601.30 385.11,605.13 385.26,605.34 385.52,605.39 385.78,605.25 387.30,603.63 387.42,603.38"/><polygon points="375.38,605.87 375.40,606.23 375.70,606.40 383.90,606.40 384.24,606.23 384.33,605.87 383.51,602.47 383.38,602.27 383.16,602.20 377.34,602.20 377.10,602.27 376.94,602.47"/><polygon points="378.05,595.40 375.87,592.97 375.60,592.85 375.44,592.85 375.12,592.99 373.89,594.30 373.77,594.56 372.82,603.38 372.89,603.63 374.07,605.25 374.29,605.39 374.57,605.34 374.77,605.13 376.52,601.30 377.45,601.30 377.74,601.18 377.89,600.90 378.44,595.80 378.35,595.52 378.08,595.40"/><polygon points="378.43,583.50 377.49,579.67 377.34,579.46 377.08,579.41 376.82,579.55 375.30,581.17 375.18,581.42 374.23,590.24 374.30,590.50 375.25,591.81 375.54,591.95 375.70,591.95 376.00,591.83 378.69,589.40 378.72,589.40 379.02,589.28 379.16,589.00 379.71,583.90 379.62,583.62 379.35,583.50"/><polygon points="376.95,592.12 376.81,592.40 376.89,592.68 378.41,594.38 378.68,594.50 383.47,594.50 383.76,594.38 385.65,592.68 385.79,592.40 385.71,592.12 384.19,590.42 383.92,590.30 379.13,590.30 378.84,590.42"/></g>
<g fill="#111"><polygon points="400.00,578.40 399.66,578.57 399.57,578.93 400.39,582.33 400.52,582.53 400.74,582.60 406.56,582.60 406.80,582.53 406.96,582.33 408.52,578.93 408.50,578.57 408.20,578.40"/><polygon points="411.08,581.42 411.01,581.17 409.83,579.55 409.61,579.41 409.33,579.46 409.13,579.67 407.38,583.50 406.45,583.50 406.16,583.62 406.01,583.90 405.46,589.00 405.55,589.28 405.82,589.40 405.85,589.40 408.03,591.83 408.30,591.95 408.46,591.95 408.78,591.81 410.01,590.50 410.13,590.24"/><polygon points="409.67,594.56 409.60,594.30 408.65,592.99 408.36,592.85 408.20,592.85 407.90,592.97 405.21,595.40 405.18,595.40 404.88,595.52 404.74,595.80 404.19,600.90 404.28,601.18 404.55,601.30 405.47,601.30 406.41,605.13 406.56,605.34 406.82,605.39 407.08,605.25 408.60,603.63 408.72,603.38"/><polygon points="396.68,605.87 396.70,606.23 397.00,606.40 405.20,606.40 405.54,606.23 405.63,605.87 404.81,602.47 404.68,602.27 404.46,602.20 398.64,602.20 398.40,602.27 398.24,602.47"/><polygon points="399.35,595.40 397.17,592.97 396.90,592.85 396.74,592.85 396.42,592.99 395.19,594.30 395.07,594.56 394.12,603.38 394.19,603.63 395.37,605.25 395.59,605.39 395.87,605.34 396.07,605.13 397.82,601.30 398.75,601.30 399.04,601.18 399.19,600.90 399.74,595.80 399.65,595.52 399.38,595.40"/><polygon points="399.73,583.50 398.79,579.67 398.64,579.46 398.38,579.41 398.12,579.55 396.60,581.17 396.48,581.42 395.53,590.24 395.60,590.50 396.55,591.81 396.84,591.95 397.00,591.95 397.30,591.83 399.99,589.40 400.02,589.40 400.32,589.28 400.46,589.00 401.01,583.90 400.92,583.62 400.65,583.50"/><polygon points="398.25,592.12 398.11,592.40 398.19,592.68 399.71,594.38 399.98,594.50 404.77,594.50 405.06,594.38 406.95,592.68 407.09,592.40 407.01,592.12 405.49,590.42 405.22,590.30 400.43,590.30 400.14,590.42"/></g>
<g fill="#111"><polygon points="421.30,578.40 420.96,578.57 420.87,578.93 421.69,582.33 421.82,582.53 422.04,582.60 427.86,582.60 428.10,582.53 428.26,582.33 429.82,578.93 429.80,578.57 429.50,578.40"/><polygon points="432.38,581.42 432.31,581.17 431.13,579.55 430.91,579.41 430.63,579.46 430.43,579.67 428.68,583.50 427.75,583.50 427.46,583.62 427.31,583.90 426.76,589.00 426.85,589.28 427.12,589.40 427.15,589.40 429.33,591.83 429.60,591.95 429.76,591.95 430.08,591.81 431.31,590.50 431.43,590.24"/><polygon points="430.97,594.56 430.90,594.30 429.95,592.99 429.66,592.85 429.50,592.85 429.20,592.97 426.51,595.40 426.48,595.40 426.18,595.52 426.04,595.80 425.49,600.90 425.58,601.18 425.85,601.30 426.77,601.30 427.71,605.13 427.86,605.34 428.12,605.39 428.38,605.25 429.90,603.63 430.02,603.38"/><polygon points="417.98,605.87 418.00,606.23 418.30,606.40 426.50,606.40 426.84,606.23 426.93,605.87 426.11,602.47 425.98,602.27 425.76,602.20 419.94,602.20 419.70,602.27 419.54,602.47"/><polygon points="420.65,595.40 418.47,592.97 418.20,592.85 418.04,592.85 417.72,592.99 416.49,594.30 416.37,594.56 415.42,603.38 415.49,603.63 416.67,605.25 416.89,605.39 417.17,605.34 417.37,605.13 419.12,601.30 420.05,601.30 420.34,601.18 420.49,600.90 421.04,595.80 420.95,595.52 420.68,595.40"/><polygon points="421.03,583.50 420.09,579.67 419.94,579.46 419.68,579.41 419.42,579.55 417.90,581.17 417.78,581.42 416.83,590.24 416.90,590.50 417.85,591.81 418.14,591.95 418.30,591.95 418.60,591.83 421.29,589.40 421.32,589.40 421.62,589.28 421.76,589.00 422.31,583.90 422.22,583.62 421.95,583.50"/><polygon points="419.55,592.12 419.41,592.40 419.49,592.68 421.01,594.38 421.28,594.50 426.07,594.50 426.36,594.38 428.25,592.68 428.39,592.40 428.31,592.12 426.79,590.42 426.52,590.30 421.73,590.30 421.44,590.42"/></g>
<rect x="348.6" y="589" width="2" height="2" fill="#111"/>
<rect x="348.1" y="599.5" width="2" height="2" fill="#111"/>
<rect x="370.5" y="604.5" width="2" height="2" fill="#111"/>
<rect x="391.8" y="589" width="2" height="2" fill="#111"/>
<rect x="391.3" y="599.5" width="2" height="2" fill="#111"/>
<rect x="413.2" y="604.5" width="2" height="2" fill="#111"/>
<rect x="304.7" y="607.3" width="4.6" height="5.3" fill="#111"/>
<rect x="310.09999999999997" y="607.3" width="4.6" height="5.3" fill="#111"/>
<rect x="315.5" y="607.3" width="4.6" height="5.3" fill="#111"/>
<rect x="307.6" y="614.9" width="126" height="22.3" fill="url(#grid)"/>
<text x="304.57" y="655.7" font-family="Liberation Sans" font-weight="bold" fill="#222" font-size="6.8" textLength="6.92" lengthAdjust="spacingAndGlyphs">AM</text>
<text x="304.37" y="666.0" font-family="Liberation Sans" font-weight="bold" fill="#222" font-size="6.8" textLength="7.12" lengthAdjust="spacingAndGlyphs">PM</text>
<g fill="#111"><polygon points="322.04,646.00 321.69,646.17 321.61,646.53 322.37,649.63 322.49,649.83 322.72,649.90 327.87,649.90 328.11,649.83 328.27,649.63 329.68,646.53 329.67,646.17 329.36,646.00"/><polygon points="332.10,648.84 332.04,648.59 330.99,647.16 330.77,647.02 330.49,647.07 330.30,647.28 328.70,650.80 327.80,650.80 327.50,650.92 327.36,651.20 326.94,655.20 327.03,655.48 327.30,655.60 327.35,655.60 329.39,657.88 329.66,658.00 329.76,658.00 330.08,657.86 331.19,656.67 331.31,656.42"/><polygon points="330.89,660.48 330.82,660.23 329.96,659.04 329.67,658.90 329.57,658.90 329.27,659.02 326.75,661.30 326.70,661.30 326.41,661.42 326.26,661.70 325.84,665.70 325.93,665.98 326.20,666.10 327.10,666.10 327.96,669.62 328.12,669.83 328.38,669.88 328.64,669.74 329.98,668.31 330.10,668.06"/><polygon points="319.12,670.37 319.13,670.73 319.44,670.90 326.76,670.90 327.11,670.73 327.19,670.37 326.43,667.27 326.31,667.07 326.08,667.00 320.93,667.00 320.69,667.07 320.53,667.27"/><polygon points="321.45,661.30 319.41,659.02 319.14,658.90 319.04,658.90 318.72,659.04 317.61,660.23 317.49,660.48 316.70,668.06 316.76,668.31 317.81,669.74 318.03,669.88 318.31,669.83 318.50,669.62 320.10,666.10 321.00,666.10 321.30,665.98 321.44,665.70 321.86,661.70 321.77,661.42 321.50,661.30"/><polygon points="321.70,650.80 320.84,647.28 320.68,647.07 320.42,647.02 320.16,647.16 318.82,648.59 318.70,648.84 317.91,656.42 317.98,656.67 318.84,657.86 319.13,658.00 319.23,658.00 319.53,657.88 322.05,655.60 322.10,655.60 322.39,655.48 322.54,655.20 322.96,651.20 322.87,650.92 322.60,650.80"/><polygon points="320.49,658.17 320.34,658.45 320.43,658.73 321.82,660.28 322.09,660.40 326.31,660.40 326.60,660.28 328.31,658.73 328.46,658.45 328.37,658.17 326.98,656.62 326.71,656.50 322.49,656.50 322.20,656.62"/></g>
<g fill="#111"><polygon points="342.94,646.00 342.59,646.17 342.51,646.53 343.27,649.63 343.39,649.83 343.62,649.90 348.77,649.90 349.01,649.83 349.17,649.63 350.58,646.53 350.57,646.17 350.26,646.00"/><polygon points="353.00,648.84 352.94,648.59 351.89,647.16 351.67,647.02 351.39,647.07 351.20,647.28 349.60,650.80 348.70,650.80 348.40,650.92 348.26,651.20 347.84,655.20 347.93,655.48 348.20,655.60 348.25,655.60 350.29,657.88 350.56,658.00 350.66,658.00 350.98,657.86 352.09,656.67 352.21,656.42"/><polygon points="351.79,660.48 351.72,660.23 350.86,659.04 350.57,658.90 350.47,658.90 350.17,659.02 347.65,661.30 347.60,661.30 347.31,661.42 347.16,661.70 346.74,665.70 346.83,665.98 347.10,666.10 348.00,666.10 348.86,669.62 349.02,669.83 349.28,669.88 349.54,669.74 350.88,668.31 351.00,668.06"/><polygon points="340.02,670.37 340.03,670.73 340.34,670.90 347.66,670.90 348.01,670.73 348.09,670.37 347.33,667.27 347.21,667.07 346.98,667.00 341.83,667.00 341.59,667.07 341.43,667.27"/><polygon points="342.35,661.30 340.31,659.02 340.04,658.90 339.94,658.90 339.62,659.04 338.51,660.23 338.39,660.48 337.60,668.06 337.66,668.31 338.71,669.74 338.93,669.88 339.21,669.83 339.40,669.62 341.00,666.10 341.90,666.10 342.20,665.98 342.34,665.70 342.76,661.70 342.67,661.42 342.40,661.30"/><polygon points="342.60,650.80 341.74,647.28 341.58,647.07 341.32,647.02 341.06,647.16 339.72,648.59 339.60,648.84 338.81,656.42 338.88,656.67 339.74,657.86 340.03,658.00 340.13,658.00 340.43,657.88 342.95,655.60 343.00,655.60 343.29,655.48 343.44,655.20 343.86,651.20 343.77,650.92 343.50,650.80"/><polygon points="341.39,658.17 341.24,658.45 341.33,658.73 342.72,660.28 342.99,660.40 347.21,660.40 347.50,660.28 349.21,658.73 349.36,658.45 349.27,658.17 347.88,656.62 347.61,656.50 343.39,656.50 343.10,656.62"/></g>
<g fill="#111"><polygon points="363.84,646.00 363.49,646.17 363.41,646.53 364.17,649.63 364.29,649.83 364.52,649.90 369.67,649.90 369.91,649.83 370.07,649.63 371.48,646.53 371.47,646.17 371.16,646.00"/><polygon points="373.90,648.84 373.84,648.59 372.79,647.16 372.57,647.02 372.29,647.07 372.10,647.28 370.50,650.80 369.60,650.80 369.30,650.92 369.16,651.20 368.74,655.20 368.83,655.48 369.10,655.60 369.15,655.60 371.19,657.88 371.46,658.00 371.56,658.00 371.88,657.86 372.99,656.67 373.11,656.42"/><polygon points="372.69,660.48 372.62,660.23 371.76,659.04 371.47,658.90 371.37,658.90 371.07,659.02 368.55,661.30 368.50,661.30 368.21,661.42 368.06,661.70 367.64,665.70 367.73,665.98 368.00,666.10 368.90,666.10 369.76,669.62 369.92,669.83 370.18,669.88 370.44,669.74 371.78,668.31 371.90,668.06"/><polygon points="360.92,670.37 360.93,670.73 361.24,670.90 368.56,670.90 368.91,670.73 368.99,670.37 368.23,667.27 368.11,667.07 367.88,667.00 362.73,667.00 362.49,667.07 362.33,667.27"/><polygon points="363.25,661.30 361.21,659.02 360.94,658.90 360.84,658.90 360.52,659.04 359.41,660.23 359.29,660.48 358.50,668.06 358.56,668.31 359.61,669.74 359.83,669.88 360.11,669.83 360.30,669.62 361.90,666.10 362.80,666.10 363.10,665.98 363.24,665.70 363.66,661.70 363.57,661.42 363.30,661.30"/><polygon points="363.50,650.80 362.64,647.28 362.48,647.07 362.22,647.02 361.96,647.16 360.62,648.59 360.50,648.84 359.71,656.42 359.78,656.67 360.64,657.86 360.93,658.00 361.03,658.00 361.33,657.88 363.85,655.60 363.90,655.60 364.19,655.48 364.34,655.20 364.76,651.20 364.67,650.92 364.40,650.80"/><polygon points="362.29,658.17 362.14,658.45 362.23,658.73 363.62,660.28 363.89,660.40 368.11,660.40 368.40,660.28 370.11,658.73 370.26,658.45 370.17,658.17 368.78,656.62 368.51,656.50 364.29,656.50 364.00,656.62"/></g>
<g fill="#111"><polygon points="384.74,646.00 384.39,646.17 384.31,646.53 385.07,649.63 385.19,649.83 385.42,649.90 390.57,649.90 390.81,649.83 390.97,649.63 392.38,646.53 392.37,646.17 392.06,646.00"/><polygon points="394.80,648.84 394.74,648.59 393.69,647.16 393.47,647.02 393.19,647.07 393.00,647.28 391.40,650.80 390.50,650.80 390.20,650.92 390.06,651.20 389.64,655.20 389.73,655.48 390.00,655.60 390.05,655.60 392.09,657.88 392.36,658.00 392.46,658.00 392.78,657.86 393.89,656.67 394.01,656.42"/><polygon points="393.59,660.48 393.52,660.23 392.66,659.04 392.37,658.90 392.27,658.90 391.97,659.02 389.45,661.30 389.40,661.30 389.11,661.42 388.96,661.70 388.54,665.70 388.63,665.98 388.90,666.10 389.80,666.10 390.66,669.62 390.82,669.83 391.08,669.88 391.34,669.74 392.68,668.31 392.80,668.06"/><polygon points="381.82,670.37 381.83,670.73 382.14,670.90 389.46,670.90 389.81,670.73 389.89,670.37 389.13,667.27 389.01,667.07 388.78,667.00 383.63,667.00 383.39,667.07 383.23,667.27"/><polygon points="384.15,661.30 382.11,659.02 381.84,658.90 381.74,658.90 381.42,659.04 380.31,660.23 380.19,660.48 379.40,668.06 379.46,668.31 380.51,669.74 380.73,669.88 381.01,669.83 381.20,669.62 382.80,666.10 383.70,666.10 384.00,665.98 384.14,665.70 384.56,661.70 384.47,661.42 384.20,661.30"/><polygon points="384.40,650.80 383.54,647.28 383.38,647.07 383.12,647.02 382.86,647.16 381.52,648.59 381.40,648.84 380.61,656.42 380.68,656.67 381.54,657.86 381.83,658.00 381.93,658.00 382.23,657.88 384.75,655.60 384.80,655.60 385.09,655.48 385.24,655.20 385.66,651.20 385.57,650.92 385.30,650.80"/><polygon points="383.19,658.17 383.04,658.45 383.13,658.73 384.52,660.28 384.79,660.40 389.01,660.40 389.30,660.28 391.01,658.73 391.16,658.45 391.07,658.17 389.68,656.62 389.41,656.50 385.19,656.50 384.90,656.62"/></g>
<g fill="#111"><polygon points="405.64,646.00 405.29,646.17 405.21,646.53 405.97,649.63 406.09,649.83 406.32,649.90 411.47,649.90 411.71,649.83 411.87,649.63 413.28,646.53 413.27,646.17 412.96,646.00"/><polygon points="415.70,648.84 415.64,648.59 414.59,647.16 414.37,647.02 414.09,647.07 413.90,647.28 412.30,650.80 411.40,650.80 411.10,650.92 410.96,651.20 410.54,655.20 410.63,655.48 410.90,655.60 410.95,655.60 412.99,657.88 413.26,658.00 413.36,658.00 413.68,657.86 414.79,656.67 414.91,656.42"/><polygon points="414.49,660.48 414.42,660.23 413.56,659.04 413.27,658.90 413.17,658.90 412.87,659.02 410.35,661.30 410.30,661.30 410.01,661.42 409.86,661.70 409.44,665.70 409.53,665.98 409.80,666.10 410.70,666.10 411.56,669.62 411.72,669.83 411.98,669.88 412.24,669.74 413.58,668.31 413.70,668.06"/><polygon points="402.72,670.37 402.73,670.73 403.04,670.90 410.36,670.90 410.71,670.73 410.79,670.37 410.03,667.27 409.91,667.07 409.68,667.00 404.53,667.00 404.29,667.07 404.13,667.27"/><polygon points="405.05,661.30 403.01,659.02 402.74,658.90 402.64,658.90 402.32,659.04 401.21,660.23 401.09,660.48 400.30,668.06 400.36,668.31 401.41,669.74 401.63,669.88 401.91,669.83 402.10,669.62 403.70,666.10 404.60,666.10 404.90,665.98 405.04,665.70 405.46,661.70 405.37,661.42 405.10,661.30"/><polygon points="405.30,650.80 404.44,647.28 404.28,647.07 404.02,647.02 403.76,647.16 402.42,648.59 402.30,648.84 401.51,656.42 401.58,656.67 402.44,657.86 402.73,658.00 402.83,658.00 403.13,657.88 405.65,655.60 405.70,655.60 405.99,655.48 406.14,655.20 406.56,651.20 406.47,650.92 406.20,650.80"/><polygon points="404.09,658.17 403.94,658.45 404.03,658.73 405.42,660.28 405.69,660.40 409.91,660.40 410.20,660.28 411.91,658.73 412.06,658.45 411.97,658.17 410.58,656.62 410.31,656.50 406.09,656.50 405.80,656.62"/></g>
<g fill="#111"><polygon points="426.54,646.00 426.19,646.17 426.11,646.53 426.87,649.63 426.99,649.83 427.22,649.90 432.37,649.90 432.61,649.83 432.77,649.63 434.18,646.53 434.17,646.17 433.86,646.00"/><polygon points="436.60,648.84 436.54,648.59 435.49,647.16 435.27,647.02 434.99,647.07 434.80,647.28 433.20,650.80 432.30,650.80 432.00,650.92 431.86,651.20 431.44,655.20 431.53,655.48 431.80,655.60 431.85,655.60 433.89,657.88 434.16,658.00 434.26,658.00 434.58,657.86 435.69,656.67 435.81,656.42"/><polygon points="435.39,660.48 435.32,660.23 434.46,659.04 434.17,658.90 434.07,658.90 433.77,659.02 431.25,661.30 431.20,661.30 430.91,661.42 430.76,661.70 430.34,665.70 430.43,665.98 430.70,666.10 431.60,666.10 432.46,669.62 432.62,669.83 432.88,669.88 433.14,669.74 434.48,668.31 434.60,668.06"/><polygon points="423.62,670.37 423.63,670.73 423.94,670.90 431.26,670.90 431.61,670.73 431.69,670.37 430.93,667.27 430.81,667.07 430.58,667.00 425.43,667.00 425.19,667.07 425.03,667.27"/><polygon points="425.95,661.30 423.91,659.02 423.64,658.90 423.54,658.90 423.22,659.04 422.11,660.23 421.99,660.48 421.20,668.06 421.26,668.31 422.31,669.74 422.53,669.88 422.81,669.83 423.00,669.62 424.60,666.10 425.50,666.10 425.80,665.98 425.94,665.70 426.36,661.70 426.27,661.42 426.00,661.30"/><polygon points="426.20,650.80 425.34,647.28 425.18,647.07 424.92,647.02 424.66,647.16 423.32,648.59 423.20,648.84 422.41,656.42 422.48,656.67 423.34,657.86 423.63,658.00 423.73,658.00 424.03,657.88 426.55,655.60 426.60,655.60 426.89,655.48 427.04,655.20 427.46,651.20 427.37,650.92 427.10,650.80"/><polygon points="424.99,658.17 424.84,658.45 424.93,658.73 426.32,660.28 426.59,660.40 430.81,660.40 431.10,660.28 432.81,658.73 432.96,658.45 432.87,658.17 431.48,656.62 431.21,656.50 426.99,656.50 426.70,656.62"/></g>
<rect x="353.4" y="651.6" width="2" height="2" fill="#111"/>
<rect x="352.6" y="662.8" width="2" height="2" fill="#111"/>
<rect x="374.6" y="668.6" width="2" height="2" fill="#111"/>
<rect x="395.2" y="651.6" width="2" height="2" fill="#111"/>
<rect x="394.4" y="662.8" width="2" height="2" fill="#111"/>
<rect x="416.4" y="668.6" width="2" height="2" fill="#111"/>
<defs><filter id="blur5" x="-30%" y="-100%" width="160%" height="300%"><feGaussianBlur stdDeviation="4.5"/></filter><linearGradient id="shv" x1="0" y1="0" x2="0" y2="1"><stop offset="0" stop-color="#ffffff"/><stop offset="1" stop-color="#6a6a6a"/></linearGradient></defs>
<g filter="url(#blur5)"><ellipse cx="369" cy="764" rx="102" ry="24" fill="#8a8a8a"/><ellipse cx="290" cy="756" rx="18" ry="8" fill="#4a4a4a"/><ellipse cx="449" cy="756" rx="18" ry="8" fill="#4a4a4a"/></g>
<polyline points="155.30,477.60 232.80,477.60 264.00,490.30 298.00,490.30" fill="none" stroke="#c2c2c2" stroke-width="1"/>
<polyline points="155.30,520.20 236.00,520.20 264.00,532.20 310.50,532.20" fill="none" stroke="#c2c2c2" stroke-width="1"/>
<polyline points="155.30,560.70 304.00,560.70" fill="none" stroke="#c2c2c2" stroke-width="1"/>
<polyline points="155.30,604.80 234.40,604.80 268.80,588.00 302.00,588.00" fill="none" stroke="#c2c2c2" stroke-width="1"/>
<polyline points="155.30,645.60 233.60,645.60 267.20,618.40 300.00,618.40" fill="none" stroke="#c2c2c2" stroke-width="1"/>
<polyline points="387.20,479.30 387.20,470.60 574.40,470.60" fill="none" stroke="#c2c2c2" stroke-width="1"/>
<polyline points="387.20,479.30 369.60,479.30 369.60,510.20 574.40,510.20" fill="none" stroke="#c2c2c2" stroke-width="1"/>
<polyline points="435.20,518.60 462.40,518.60 480.00,556.00 574.40,556.00" fill="none" stroke="#c2c2c2" stroke-width="1"/>
<text x="156.42" y="458.4" font-family="Liberation Sans" font-weight="normal" fill="#1a1a1a" font-size="17.2" textLength="80.35" lengthAdjust="spacing">Heart rate</text>
<text x="157.11" y="472.8" font-family="Liberation Sans" font-weight="normal" fill="#1a1a1a" font-size="17.2" textLength="55.05" lengthAdjust="spacing">display</text>
<text x="156.42" y="502.0" font-family="Liberation Sans" font-weight="normal" fill="#1a1a1a" font-size="17.2" textLength="67.63" lengthAdjust="spacing">Rotation</text>
<text x="157.80" y="516.3" font-family="Liberation Sans" font-weight="normal" fill="#1a1a1a" font-size="17.2" textLength="78.92" lengthAdjust="spacing">Animation</text>
<text x="156.94" y="542.1" font-family="Liberation Sans" font-weight="normal" fill="#1a1a1a" font-size="17.2" textLength="52.71" lengthAdjust="spacing">Speed</text>
<text x="156.94" y="556.5" font-family="Liberation Sans" font-weight="normal" fill="#1a1a1a" font-size="17.2" textLength="96.67" lengthAdjust="spacing">Comparison</text>
<text x="156.42" y="587.5" font-family="Liberation Sans" font-weight="normal" fill="#1a1a1a" font-size="17.2" textLength="103.63" lengthAdjust="spacing">Maintenance</text>
<text x="156.42" y="602.0" font-family="Liberation Sans" font-weight="normal" fill="#1a1a1a" font-size="17.2" textLength="87.64" lengthAdjust="spacing">Reminders</text>
<text x="156.42" y="627.9" font-family="Liberation Sans" font-weight="normal" fill="#1a1a1a" font-size="17.2" textLength="86.79" lengthAdjust="spacing">Panoramic</text>
<text x="156.42" y="641.5" font-family="Liberation Sans" font-weight="normal" fill="#1a1a1a" font-size="17.2" textLength="58.91" lengthAdjust="spacing">Display</text>
<text x="498.64" y="450.0" font-family="Liberation Sans" font-weight="normal" fill="#1a1a1a" font-size="17.2" textLength="71.82" lengthAdjust="spacing">Cadence</text>
<text x="498.64" y="464.0" font-family="Liberation Sans" font-weight="normal" fill="#1a1a1a" font-size="17.2" textLength="67.76" lengthAdjust="spacing">Contrast</text>
<text x="498.64" y="503.3" font-family="Liberation Sans" font-weight="normal" fill="#1a1a1a" font-size="17.2" textLength="127.31" lengthAdjust="spacing">Cadence Signal</text>
<text x="498.32" y="537.4" font-family="Liberation Sans" font-weight="normal" fill="#1a1a1a" font-size="17.2" textLength="92.71" lengthAdjust="spacing">Low battery</text>
<text x="498.50" y="552.0" font-family="Liberation Sans" font-weight="normal" fill="#1a1a1a" font-size="17.2" textLength="67.66" lengthAdjust="spacing">indicator</text>
</svg>
</body></html>
